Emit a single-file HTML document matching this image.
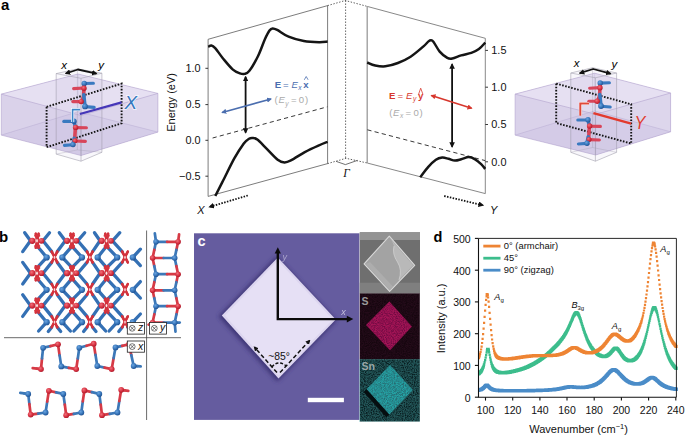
<!DOCTYPE html>
<html><head><meta charset="utf-8"><title>figure</title>
<style>
html,body{margin:0;padding:0;background:#fff;}
body{width:685px;height:435px;overflow:hidden;}
svg{display:block;font-family:"Liberation Sans",sans-serif;}
</style></head><body>
<svg width="685" height="435" viewBox="0 0 685 435">
<rect width="685" height="435" fill="#fff"/>
<defs>
<marker id="ahk" viewBox="0 0 10 10" refX="8" refY="5" markerWidth="3.1" markerHeight="3.1" orient="auto-start-reverse"><path d="M0 0L10 5L0 10z" fill="#111"/></marker>
<marker id="ahb" viewBox="0 0 10 10" refX="8" refY="5" markerWidth="3.2" markerHeight="3.2" orient="auto-start-reverse"><path d="M0 0L10 5L0 10z" fill="#4b6eaf"/></marker>
<marker id="ahr" viewBox="0 0 10 10" refX="8" refY="5" markerWidth="3.2" markerHeight="3.2" orient="auto-start-reverse"><path d="M0 0L10 5L0 10z" fill="#d7372d"/></marker>
<marker id="ahs" viewBox="0 0 10 10" refX="7" refY="5" markerWidth="3.2" markerHeight="3.2" orient="auto-start-reverse"><path d="M0 0L10 5L0 10z" fill="#111"/></marker>
<radialGradient id="gr" cx="0.38" cy="0.35" r="0.7"><stop offset="0" stop-color="#f0707a"/><stop offset="0.6" stop-color="#d63040"/><stop offset="1" stop-color="#a81828"/></radialGradient>
<radialGradient id="gb" cx="0.38" cy="0.35" r="0.7"><stop offset="0" stop-color="#6aa4e0"/><stop offset="0.6" stop-color="#3674b8"/><stop offset="1" stop-color="#1c4c8c"/></radialGradient>
<filter id="nzS" x="0" y="0" width="100%" height="100%"><feTurbulence type="fractalNoise" baseFrequency="0.9" numOctaves="2" seed="3"/><feColorMatrix type="matrix" values="0 0 0 0 0.75  0 0 0 0 0.08  0 0 0 0 0.42  1.6 1.6 0 0 -1.05"/></filter>
<filter id="nzS2" x="0" y="0" width="100%" height="100%"><feTurbulence type="fractalNoise" baseFrequency="0.9" numOctaves="2" seed="8"/><feColorMatrix type="matrix" values="0 0 0 0 0.05  0 0 0 0 0.0  0 0 0 0 0.03  1.6 1.6 0 0 -1.25"/></filter>
<filter id="nzT" x="0" y="0" width="100%" height="100%"><feTurbulence type="fractalNoise" baseFrequency="0.9" numOctaves="2" seed="5"/><feColorMatrix type="matrix" values="0 0 0 0 0.12  0 0 0 0 0.72  0 0 0 0 0.72  1.6 1.6 0 0 -0.95"/></filter>
<filter id="nzT2" x="0" y="0" width="100%" height="100%"><feTurbulence type="fractalNoise" baseFrequency="0.9" numOctaves="2" seed="11"/><feColorMatrix type="matrix" values="0 0 0 0 0.02  0 0 0 0 0.10  0 0 0 0 0.12  1.6 1.6 0 0 -1.2"/></filter>
<filter id="blur1"><feGaussianBlur stdDeviation="2.2"/></filter>
<filter id="blur2"><feGaussianBlur stdDeviation="0.6"/></filter>
</defs>
<text x="1" y="9.6" font-size="15" font-weight="bold">a</text>
<g id="slabL">
<polygon points="1.3,94.1 78.0,74.0 157.9,93.4 157.9,132.1 81.0,155.5 1.3,135.1" fill="#dad2ea"/>
<polygon points="1.3,94.1 78.0,74.0 157.9,93.4 81.0,115.5" fill="#e6e0f2"/>
<polygon points="81.0,115.5 157.9,93.4 157.9,132.1 81.0,155.5" fill="#ddd6ec"/>
<polygon points="1.3,135.1 78.0,111.7 157.9,132.1 81.0,155.5" fill="#cdc3e3" opacity="0.5"/>
<polygon points="1.3,94.1 78.0,74.0 157.9,93.4 157.9,132.1 81.0,155.5 1.3,135.1" stroke="#b3a5cf" stroke-width="0.6" fill="none"/>
<polyline points="1.3,94.1 81.0,115.5 157.9,93.4" stroke="#b3a5cf" stroke-width="0.6" fill="none"/>
<polyline points="81.0,115.5 81.0,155.5" stroke="#b3a5cf" stroke-width="0.6" fill="none"/>
<polyline points="1.3,135.1 78.0,111.7 157.9,132.1" stroke="#b3a5cf" stroke-width="0.6" fill="none" opacity="0.7"/>
<polyline points="78.0,74.0 78.0,111.7" stroke="#b3a5cf" stroke-width="0.6" fill="none" opacity="0.5"/>
<polygon points="56.2,73.6 77.4,68.9 101.9,73.2 81.0,78.3" stroke="#9a98a6" stroke-width="0.55" fill="none"/>
<polyline points="56.2,73.6 56.2,154.1 81.0,161.2 101.9,152.3 101.9,73.2" stroke="#9a98a6" stroke-width="0.55" fill="none"/>
<polyline points="81.0,78.3 81.0,161.2" stroke="#9a98a6" stroke-width="0.55" fill="none"/>
<polyline points="56.2,154.1 77.4,149.9 101.9,152.3" stroke="#9a98a6" stroke-width="0.55" fill="none" opacity="0.6"/>
<polyline points="77.4,68.9 77.4,149.9" stroke="#9a98a6" stroke-width="0.55" fill="none" opacity="0.6"/>
<polygon points="56.2,73.6 77.4,68.9 101.9,73.2 101.9,152.3 81.0,161.2 56.2,154.1" fill="#c9bfe0" opacity="0.12"/>
<polygon points="46.6,106.8 121.6,83.6 121.6,123.3 46.6,147.2" fill="none" stroke="#141414" stroke-width="1.9" stroke-dasharray="1.6 1.5"/>
<line x1="84.2" y1="83.4" x2="83.6" y2="96.4" stroke="#d8455a" stroke-width="3.6" stroke-linecap="round"/>
<line x1="83.6" y1="96.4" x2="81.4" y2="101.6" stroke="#d8455a" stroke-width="3.6" stroke-linecap="round"/>
<line x1="83.8" y1="94.9" x2="85.0" y2="106.6" stroke="#3a7ac0" stroke-width="3.6" stroke-linecap="round"/>
<line x1="73.6" y1="88.6" x2="84.2" y2="88.0" stroke="#d8455a" stroke-width="3.1" stroke-linecap="round"/>
<line x1="84.2" y1="83.5" x2="93.4" y2="83.2" stroke="#3a7ac0" stroke-width="3.1" stroke-linecap="round"/>
<line x1="72.8" y1="101.6" x2="81.2" y2="101.6" stroke="#d8455a" stroke-width="3.1" stroke-linecap="round"/>
<line x1="85.0" y1="106.6" x2="94.2" y2="107.4" stroke="#3a7ac0" stroke-width="3.1" stroke-linecap="round"/>
<circle cx="84.2" cy="83.4" r="2.7" fill="url(#gb)"/>
<circle cx="84.0" cy="88.2" r="2.7" fill="url(#gr)"/>
<circle cx="81.2" cy="101.6" r="2.7" fill="url(#gr)"/>
<circle cx="85.0" cy="106.4" r="2.9" fill="url(#gb)"/>
<line x1="74.0" y1="121.2" x2="75.4" y2="127.4" stroke="#3a7ac0" stroke-width="3.6" stroke-linecap="round"/>
<line x1="75.4" y1="127.4" x2="74.6" y2="140.7" stroke="#d8455a" stroke-width="3.6" stroke-linecap="round"/>
<line x1="74.2" y1="138.2" x2="73.0" y2="144.8" stroke="#3a7ac0" stroke-width="3.6" stroke-linecap="round"/>
<line x1="63.8" y1="121.4" x2="74.0" y2="121.4" stroke="#3a7ac0" stroke-width="3.1" stroke-linecap="round"/>
<line x1="75.6" y1="127.6" x2="86.4" y2="127.8" stroke="#d8455a" stroke-width="3.1" stroke-linecap="round"/>
<line x1="74.8" y1="141.0" x2="85.4" y2="141.4" stroke="#d8455a" stroke-width="3.1" stroke-linecap="round"/>
<line x1="64.4" y1="145.4" x2="73.0" y2="144.8" stroke="#3a7ac0" stroke-width="3.1" stroke-linecap="round"/>
<circle cx="74.0" cy="121.2" r="2.7" fill="url(#gb)"/>
<circle cx="75.6" cy="127.4" r="2.7" fill="url(#gr)"/>
<circle cx="75.0" cy="140.8" r="2.5" fill="url(#gr)"/>
<circle cx="73.0" cy="144.6" r="2.7" fill="url(#gb)"/>
<line x1="79.9" y1="114.0" x2="121.6" y2="102.4" stroke="#4536b8" stroke-width="2.2"/>
<polyline points="72.6,122 72.6,109.6 80.2,109.6" fill="none" stroke="#fff" stroke-width="3"/>
<polyline points="72.6,122 72.6,109.6 80.2,109.6" fill="none" stroke="#3d86c8" stroke-width="1.6"/>
<text x="124.4" y="109.0" font-size="18.8" font-style="italic" fill="#fff" stroke="#fff" stroke-width="1.6" opacity="0.7">X</text><text x="124.4" y="109.0" font-size="18.8" font-style="italic" fill="#3578be">X</text>
<polyline points="65.8,73.5 77.9,69.5 96.4,73.6" fill="none" stroke="#111" stroke-width="1.8" stroke-linejoin="round" marker-start="url(#ahk)" marker-end="url(#ahk)"/>
<text x="61.2" y="68.6" font-size="11.5" font-style="italic">x</text>
<text x="98.2" y="68.7" font-size="11.5" font-style="italic">y</text>
</g>
<g id="slabR">
<polygon points="515.1,94.1 594.6,73.2 670.6,93.0 670.6,131.8 595.6,155.0 515.1,135.1" fill="#dad2ea"/>
<polygon points="515.1,94.1 594.6,73.2 670.6,93.0 595.6,114.3" fill="#e6e0f2"/>
<polygon points="595.6,114.3 670.6,93.0 670.6,131.8 595.6,155.0" fill="#ddd6ec"/>
<polygon points="515.1,135.1 594.6,110.9 670.6,131.8 595.6,155.0" fill="#cdc3e3" opacity="0.5"/>
<polygon points="515.1,94.1 594.6,73.2 670.6,93.0 670.6,131.8 595.6,155.0 515.1,135.1" stroke="#b3a5cf" stroke-width="0.6" fill="none"/>
<polyline points="515.1,94.1 595.6,114.3 670.6,93.0" stroke="#b3a5cf" stroke-width="0.6" fill="none"/>
<polyline points="595.6,114.3 595.6,155.0" stroke="#b3a5cf" stroke-width="0.6" fill="none"/>
<polyline points="515.1,135.1 594.6,110.9 670.6,131.8" stroke="#b3a5cf" stroke-width="0.6" fill="none" opacity="0.7"/>
<polyline points="594.6,73.2 594.6,110.9" stroke="#b3a5cf" stroke-width="0.6" fill="none" opacity="0.5"/>
<polygon points="570.8,73.0 592.6,67.7 616.6,73.0 595.4,77.8" stroke="#9a98a6" stroke-width="0.55" fill="none"/>
<polyline points="570.8,73.0 570.8,152.3 595.4,161.2 616.6,152.3 616.6,73.0" stroke="#9a98a6" stroke-width="0.55" fill="none"/>
<polyline points="595.4,77.8 595.4,161.2" stroke="#9a98a6" stroke-width="0.55" fill="none"/>
<polyline points="570.8,152.3 592.6,147.5 616.6,152.3" stroke="#9a98a6" stroke-width="0.55" fill="none" opacity="0.6"/>
<polyline points="592.6,67.7 592.6,147.5" stroke="#9a98a6" stroke-width="0.55" fill="none" opacity="0.6"/>
<polygon points="570.8,73.0 592.6,67.7 616.6,73.0 616.6,152.3 595.4,161.2 570.8,152.3" fill="#c9bfe0" opacity="0.12"/>
<polygon points="556.2,83.6 631.2,104.3 631.2,143.5 556.2,123.0" fill="none" stroke="#141414" stroke-width="1.9" stroke-dasharray="1.6 1.5"/>
<line x1="600.2" y1="83.0" x2="599.6" y2="96.0" stroke="#d8455a" stroke-width="3.6" stroke-linecap="round"/>
<line x1="599.6" y1="96.0" x2="597.4" y2="101.2" stroke="#d8455a" stroke-width="3.6" stroke-linecap="round"/>
<line x1="599.8" y1="94.5" x2="601.0" y2="106.2" stroke="#3a7ac0" stroke-width="3.6" stroke-linecap="round"/>
<line x1="589.6" y1="88.2" x2="600.2" y2="87.6" stroke="#d8455a" stroke-width="3.1" stroke-linecap="round"/>
<line x1="600.2" y1="83.1" x2="609.4" y2="82.8" stroke="#3a7ac0" stroke-width="3.1" stroke-linecap="round"/>
<line x1="588.8" y1="101.2" x2="597.2" y2="101.2" stroke="#d8455a" stroke-width="3.1" stroke-linecap="round"/>
<line x1="601.0" y1="106.2" x2="610.2" y2="107.0" stroke="#3a7ac0" stroke-width="3.1" stroke-linecap="round"/>
<circle cx="600.2" cy="83.0" r="2.7" fill="url(#gb)"/>
<circle cx="600.0" cy="87.8" r="2.7" fill="url(#gr)"/>
<circle cx="597.2" cy="101.2" r="2.7" fill="url(#gr)"/>
<circle cx="601.0" cy="106.0" r="2.9" fill="url(#gb)"/>
<line x1="588.0" y1="119.8" x2="589.4" y2="126.0" stroke="#3a7ac0" stroke-width="3.6" stroke-linecap="round"/>
<line x1="589.4" y1="126.0" x2="588.6" y2="139.3" stroke="#d8455a" stroke-width="3.6" stroke-linecap="round"/>
<line x1="588.2" y1="136.8" x2="587.0" y2="143.4" stroke="#3a7ac0" stroke-width="3.6" stroke-linecap="round"/>
<line x1="577.8" y1="120.0" x2="588.0" y2="120.0" stroke="#3a7ac0" stroke-width="3.1" stroke-linecap="round"/>
<line x1="589.6" y1="126.2" x2="600.4" y2="126.4" stroke="#d8455a" stroke-width="3.1" stroke-linecap="round"/>
<line x1="588.8" y1="139.6" x2="599.4" y2="140.0" stroke="#d8455a" stroke-width="3.1" stroke-linecap="round"/>
<line x1="578.4" y1="144.0" x2="587.0" y2="143.4" stroke="#3a7ac0" stroke-width="3.1" stroke-linecap="round"/>
<circle cx="588.0" cy="119.8" r="2.7" fill="url(#gb)"/>
<circle cx="589.6" cy="126.0" r="2.7" fill="url(#gr)"/>
<circle cx="589.0" cy="139.4" r="2.5" fill="url(#gr)"/>
<circle cx="587.0" cy="143.2" r="2.7" fill="url(#gb)"/>
<line x1="593.4" y1="113.1" x2="631.2" y2="123.6" stroke="#e23a2e" stroke-width="2.5"/>
<polyline points="580.3,115.7 580.3,103.5 589.1,103.5" fill="none" stroke="#fff" stroke-width="2.8"/>
<polyline points="580.3,115.7 580.3,103.5 589.1,103.5" fill="none" stroke="#e0483a" stroke-width="2.0"/>
<text transform="translate(634.6,128.9) scale(0.88,1)" font-size="18.6" font-style="italic" fill="#e03c30">Y</text>
<polyline points="579.8,73.1 593.2,69.0 610.5,73.7" fill="none" stroke="#111" stroke-width="1.8" stroke-linejoin="round" marker-start="url(#ahk)" marker-end="url(#ahk)"/>
<text x="573.8" y="67.4" font-size="11.5" font-style="italic">x</text>
<text x="611.4" y="67.8" font-size="11.5" font-style="italic">y</text>
</g>
<g id="bands" fill="none">
<polygon points="208.1,39.3 327.6,5.6 327.6,163.6 208.1,196.4" stroke="#5a5a5a" stroke-width="0.8"/>
<polyline points="367.2,6.4 485.3,38.3 485.3,193.6 367.2,163" stroke="#6a6a6a" stroke-width="0.8"/>
<line x1="367.2" y1="6.4" x2="367.2" y2="163" stroke="#9a9a9a" stroke-width="1.3"/>
<polyline points="327.6,5.6 345.3,0.5 367.2,6.4" stroke="#333" stroke-width="0.8" stroke-dasharray="1.4 1.6"/>
<line x1="345.6" y1="0.5" x2="345.6" y2="158.3" stroke="#333" stroke-width="0.8" stroke-dasharray="1.4 1.6"/>
<polyline points="327.6,163.6 346.1,158.3 367.2,163" stroke="#333" stroke-width="0.8" stroke-dasharray="1.4 1.6"/>
<polyline points="336.2,161.4 345.4,164.6 357.4,160.4" stroke="#333" stroke-width="0.7"/>
<line x1="205.4" y1="68.3" x2="208.1" y2="68.3" stroke="#222" stroke-width="0.9"/>
<line x1="205.4" y1="104.6" x2="208.1" y2="104.6" stroke="#222" stroke-width="0.9"/>
<line x1="205.4" y1="140.3" x2="208.1" y2="140.3" stroke="#222" stroke-width="0.9"/>
<line x1="205.4" y1="176.2" x2="208.1" y2="176.2" stroke="#222" stroke-width="0.9"/>
<line x1="485.3" y1="50.4" x2="488" y2="50.4" stroke="#222" stroke-width="0.9"/>
<line x1="485.3" y1="87.2" x2="488" y2="87.2" stroke="#222" stroke-width="0.9"/>
<line x1="485.3" y1="124.5" x2="488" y2="124.5" stroke="#222" stroke-width="0.9"/>
<line x1="485.3" y1="161.8" x2="488" y2="161.8" stroke="#222" stroke-width="0.9"/>
<line x1="212.6" y1="138" x2="327.4" y2="106.8" stroke="#222" stroke-width="0.9" stroke-dasharray="4.2 3.2"/>
<line x1="367.4" y1="129.8" x2="485.2" y2="160.6" stroke="#222" stroke-width="0.9" stroke-dasharray="4.2 3.2"/>
<path d="M208.2 46.8 C208.7 46.6 210.2 45.3 211.4 45.5 C212.6 45.7 213.3 46.0 215.2 48.1 C217.1 50.2 219.9 54.6 222.8 58.2 C225.8 61.8 230.0 67.1 232.9 69.6 C235.8 72.1 238.1 72.7 240.0 73.4 C241.9 74.1 242.9 74.3 244.5 73.9 C246.1 73.5 247.1 73.8 249.4 70.8 C251.7 67.8 255.6 61.0 258.2 55.7 C260.8 50.4 263.1 43.2 265.0 39.0 C266.9 34.8 268.2 32.3 269.5 30.5 C270.8 28.7 271.3 28.5 272.6 28.4 C273.9 28.3 274.5 28.5 277.2 29.9 C279.9 31.3 284.2 34.9 288.6 36.7 C293.0 38.6 298.7 40.1 303.8 41.0 C308.9 41.9 315.0 42.1 319.0 42.2 C323.0 42.3 326.2 41.7 327.6 41.6" stroke="#151515" stroke-width="2.5" stroke-linecap="butt"/>
<path d="M215.3 196.0 C216.7 193.3 220.2 186.3 223.4 180.0 C226.6 173.7 230.9 164.4 234.3 158.3 C237.7 152.2 241.4 146.7 243.8 143.4 C246.2 140.2 247.6 139.7 249.0 138.8 C250.4 137.9 251.1 137.9 252.5 138.0 C253.9 138.1 254.9 137.8 257.3 139.6 C259.7 141.4 263.4 145.5 266.8 148.8 C270.2 152.2 274.8 157.4 277.7 159.7 C280.6 162.0 282.2 162.3 284.5 162.4 C286.8 162.5 287.9 161.9 291.3 160.2 C294.7 158.5 300.3 154.5 304.8 152.1 C309.3 149.7 314.6 147.3 318.4 145.6 C322.2 143.9 326.1 142.4 327.6 141.8" stroke="#151515" stroke-width="2.5" stroke-linecap="butt"/>
<path d="M367.2 62.5 C368.5 63.0 372.2 64.9 375.2 65.5 C378.2 66.1 381.5 66.7 385.3 66.3 C389.1 65.9 393.7 64.6 397.9 63.0 C402.1 61.4 406.4 59.4 410.6 56.7 C414.8 54.0 420.2 49.2 423.2 46.6 C426.2 44.0 427.2 42.5 428.5 41.4 C429.8 40.3 430.0 40.2 430.8 40.2 C431.6 40.2 431.9 39.8 433.4 41.7 C434.9 43.6 437.4 48.9 439.7 51.6 C442.0 54.3 445.2 56.7 447.3 57.9 C449.4 59.1 450.0 59.0 452.3 58.6 C454.6 58.2 458.0 56.4 461.2 55.4 C464.4 54.4 468.4 53.9 471.3 52.9 C474.2 51.9 476.6 50.8 478.9 49.1 C481.2 47.4 484.2 43.7 485.3 42.6" stroke="#151515" stroke-width="2.5" stroke-linecap="butt"/>
<path d="M420.2 177.2 C421.6 175.5 425.7 169.8 428.3 166.9 C430.9 164.0 433.6 161.4 435.9 159.8 C438.2 158.2 440.1 157.8 442.2 157.6 C444.3 157.4 446.4 158.3 448.5 158.8 C450.6 159.3 452.8 160.5 454.9 160.6 C457.0 160.7 458.9 159.9 461.2 159.3 C463.5 158.7 466.5 157.1 468.8 157.1 C471.1 157.1 473.0 158.1 475.1 159.3 C477.2 160.5 479.7 162.8 481.4 164.4 C483.1 166.0 484.6 168.2 485.3 168.9" stroke="#151515" stroke-width="2.5" stroke-linecap="butt"/>
<line x1="245.6" y1="76.8" x2="245.6" y2="132.6" stroke="#111" stroke-width="1.8" marker-start="url(#ahk)" marker-end="url(#ahk)"/>
<line x1="452.1" y1="64.2" x2="452.1" y2="146.8" stroke="#111" stroke-width="1.8" marker-start="url(#ahk)" marker-end="url(#ahk)"/>
<line x1="222.2" y1="112.4" x2="271.0" y2="99.0" stroke="#4b6eaf" stroke-width="1.6" marker-start="url(#ahb)" marker-end="url(#ahb)"/>
<line x1="431.4" y1="95.5" x2="471.6" y2="108.2" stroke="#d7372d" stroke-width="1.6" marker-start="url(#ahr)" marker-end="url(#ahr)"/>
<line x1="247.8" y1="195.5" x2="210" y2="206.8" stroke="#111" stroke-width="1.8" stroke-dasharray="1.5 1.4" marker-end="url(#ahs)"/>
<line x1="444.2" y1="196" x2="482.5" y2="205.2" stroke="#111" stroke-width="1.8" stroke-dasharray="1.5 1.4" marker-end="url(#ahs)"/>
</g>
<g font-size="10.9" fill="#111">
<text x="200.6" y="72.0" text-anchor="end">1.0</text>
<text x="200.6" y="108.3" text-anchor="end">0.5</text>
<text x="200.6" y="144.0" text-anchor="end">0.0</text>
<text x="200.6" y="179.9" text-anchor="end">−0.5</text>
<text x="491.3" y="54.1">1.5</text>
<text x="491.3" y="90.9">1.0</text>
<text x="491.3" y="128.2">0.5</text>
<text x="491.3" y="165.5">0.0</text>
</g>
<text transform="translate(175.2,102.4) rotate(-90)" text-anchor="middle" font-size="11" fill="#111">Energy (eV)</text>
<text x="197.2" y="214" font-size="11" font-style="italic" fill="#111">X</text>
<text x="490" y="213.8" font-size="11" font-style="italic" fill="#111">Y</text>
<text x="343.2" y="177" font-size="11.5" font-style="italic" font-family="Liberation Serif, serif" fill="#111">Γ</text>
<g font-size="9.6">
<text y="87.5" fill="#4b6eaf"><tspan x="274.7" font-weight="bold">E</tspan><tspan x="282.9">=</tspan><tspan x="291.4" font-style="italic">E</tspan><tspan x="298.3" dy="2.7" font-size="6.6" font-style="italic">x</tspan><tspan x="303.3" dy="-2.7" font-weight="bold">x</tspan></text>
<polyline points="304.3,79.8 306.2,76.5 308.1,79.8" fill="none" stroke="#4b6eaf" stroke-width="0.8"/>
<text y="103.1" fill="#aaaaaa"><tspan x="274.6">(</tspan><tspan x="278.5" font-style="italic">E</tspan><tspan x="285.3" dy="2.4" font-size="6.6" font-style="italic">y</tspan><tspan x="290.9" dy="-2.4">=</tspan><tspan x="298.8">0</tspan><tspan x="304.9">)</tspan></text>
<text y="98.6" fill="#d7372d"><tspan x="389.0" font-weight="bold">E</tspan><tspan x="397.6">=</tspan><tspan x="405.9" font-style="italic">E</tspan><tspan x="412.9" dy="2.7" font-size="6.6" font-style="italic">y</tspan><tspan x="418.0" dy="-2.7" font-weight="bold">y</tspan></text>
<polyline points="418.6,94.2 420.7,88.2 422.9,94.2" fill="none" stroke="#d7372d" stroke-width="0.8"/>
<text y="115.6" fill="#aaaaaa"><tspan x="389.2">(</tspan><tspan x="393.1" font-style="italic">E</tspan><tspan x="399.9" dy="2.4" font-size="6.6" font-style="italic">x</tspan><tspan x="405.5" dy="-2.4">=</tspan><tspan x="413.4">0</tspan><tspan x="419.5">)</tspan></text>
</g>
<text x="-1" y="241.6" font-size="15" font-weight="bold">b</text>
<g id="pb">
<line x1="30.5" y1="240.8" x2="24.7" y2="232.7" stroke="#3470b4" stroke-width="3.3" stroke-linecap="round"/>
<line x1="30.5" y1="240.8" x2="22.7" y2="251.6" stroke="#3470b4" stroke-width="3.3" stroke-linecap="round"/>
<line x1="43.0" y1="240.8" x2="49.5" y2="232.7" stroke="#3470b4" stroke-width="3.3" stroke-linecap="round"/>
<line x1="43.0" y1="240.8" x2="51.7" y2="251.6" stroke="#3470b4" stroke-width="3.3" stroke-linecap="round"/>
<line x1="38.6" y1="247.8" x2="46.7" y2="257.4" stroke="#3470b4" stroke-width="3.3" stroke-linecap="round"/>
<line x1="30.5" y1="273.2" x2="22.7" y2="262.4" stroke="#3470b4" stroke-width="3.3" stroke-linecap="round"/>
<line x1="30.5" y1="273.2" x2="22.7" y2="284.0" stroke="#3470b4" stroke-width="3.3" stroke-linecap="round"/>
<line x1="43.0" y1="273.2" x2="51.7" y2="262.4" stroke="#3470b4" stroke-width="3.3" stroke-linecap="round"/>
<line x1="38.6" y1="266.2" x2="46.7" y2="257.4" stroke="#3470b4" stroke-width="3.3" stroke-linecap="round"/>
<line x1="43.0" y1="273.2" x2="51.7" y2="284.0" stroke="#3470b4" stroke-width="3.3" stroke-linecap="round"/>
<line x1="38.6" y1="280.2" x2="46.7" y2="289.8" stroke="#3470b4" stroke-width="3.3" stroke-linecap="round"/>
<line x1="30.5" y1="305.6" x2="22.7" y2="294.8" stroke="#3470b4" stroke-width="3.3" stroke-linecap="round"/>
<line x1="30.5" y1="305.6" x2="22.7" y2="316.4" stroke="#3470b4" stroke-width="3.3" stroke-linecap="round"/>
<line x1="43.0" y1="305.6" x2="51.7" y2="294.8" stroke="#3470b4" stroke-width="3.3" stroke-linecap="round"/>
<line x1="38.6" y1="298.6" x2="46.7" y2="289.8" stroke="#3470b4" stroke-width="3.3" stroke-linecap="round"/>
<line x1="43.0" y1="305.6" x2="51.7" y2="316.4" stroke="#3470b4" stroke-width="3.3" stroke-linecap="round"/>
<line x1="38.6" y1="312.6" x2="46.7" y2="322.2" stroke="#3470b4" stroke-width="3.3" stroke-linecap="round"/>
<line x1="65.3" y1="240.8" x2="59.3" y2="232.7" stroke="#3470b4" stroke-width="3.3" stroke-linecap="round"/>
<line x1="65.3" y1="240.8" x2="57.3" y2="251.6" stroke="#3470b4" stroke-width="3.3" stroke-linecap="round"/>
<line x1="70.6" y1="247.8" x2="62.3" y2="257.4" stroke="#3470b4" stroke-width="3.3" stroke-linecap="round"/>
<line x1="77.8" y1="240.8" x2="84.7" y2="232.7" stroke="#3470b4" stroke-width="3.3" stroke-linecap="round"/>
<line x1="77.8" y1="240.8" x2="87.0" y2="251.6" stroke="#3470b4" stroke-width="3.3" stroke-linecap="round"/>
<line x1="73.4" y1="247.8" x2="82.0" y2="257.4" stroke="#3470b4" stroke-width="3.3" stroke-linecap="round"/>
<line x1="65.3" y1="273.2" x2="57.3" y2="262.4" stroke="#3470b4" stroke-width="3.3" stroke-linecap="round"/>
<line x1="70.6" y1="266.2" x2="62.3" y2="257.4" stroke="#3470b4" stroke-width="3.3" stroke-linecap="round"/>
<line x1="65.3" y1="273.2" x2="57.3" y2="284.0" stroke="#3470b4" stroke-width="3.3" stroke-linecap="round"/>
<line x1="70.6" y1="280.2" x2="62.3" y2="289.8" stroke="#3470b4" stroke-width="3.3" stroke-linecap="round"/>
<line x1="77.8" y1="273.2" x2="87.0" y2="262.4" stroke="#3470b4" stroke-width="3.3" stroke-linecap="round"/>
<line x1="73.4" y1="266.2" x2="82.0" y2="257.4" stroke="#3470b4" stroke-width="3.3" stroke-linecap="round"/>
<line x1="77.8" y1="273.2" x2="87.0" y2="284.0" stroke="#3470b4" stroke-width="3.3" stroke-linecap="round"/>
<line x1="73.4" y1="280.2" x2="82.0" y2="289.8" stroke="#3470b4" stroke-width="3.3" stroke-linecap="round"/>
<line x1="65.3" y1="305.6" x2="57.3" y2="294.8" stroke="#3470b4" stroke-width="3.3" stroke-linecap="round"/>
<line x1="70.6" y1="298.6" x2="62.3" y2="289.8" stroke="#3470b4" stroke-width="3.3" stroke-linecap="round"/>
<line x1="65.3" y1="305.6" x2="57.3" y2="316.4" stroke="#3470b4" stroke-width="3.3" stroke-linecap="round"/>
<line x1="70.6" y1="312.6" x2="62.3" y2="322.2" stroke="#3470b4" stroke-width="3.3" stroke-linecap="round"/>
<line x1="77.8" y1="305.6" x2="87.0" y2="294.8" stroke="#3470b4" stroke-width="3.3" stroke-linecap="round"/>
<line x1="73.4" y1="298.6" x2="82.0" y2="289.8" stroke="#3470b4" stroke-width="3.3" stroke-linecap="round"/>
<line x1="77.8" y1="305.6" x2="87.0" y2="316.4" stroke="#3470b4" stroke-width="3.3" stroke-linecap="round"/>
<line x1="73.4" y1="312.6" x2="82.0" y2="322.2" stroke="#3470b4" stroke-width="3.3" stroke-linecap="round"/>
<line x1="100.0" y1="240.8" x2="94.5" y2="232.7" stroke="#3470b4" stroke-width="3.3" stroke-linecap="round"/>
<line x1="100.0" y1="240.8" x2="92.6" y2="251.6" stroke="#3470b4" stroke-width="3.3" stroke-linecap="round"/>
<line x1="105.3" y1="247.8" x2="97.6" y2="257.4" stroke="#3470b4" stroke-width="3.3" stroke-linecap="round"/>
<line x1="112.5" y1="240.8" x2="119.8" y2="232.7" stroke="#3470b4" stroke-width="3.3" stroke-linecap="round"/>
<line x1="112.5" y1="240.8" x2="122.2" y2="251.6" stroke="#3470b4" stroke-width="3.3" stroke-linecap="round"/>
<line x1="108.1" y1="247.8" x2="117.2" y2="257.4" stroke="#3470b4" stroke-width="3.3" stroke-linecap="round"/>
<line x1="100.0" y1="273.2" x2="92.6" y2="262.4" stroke="#3470b4" stroke-width="3.3" stroke-linecap="round"/>
<line x1="105.3" y1="266.2" x2="97.6" y2="257.4" stroke="#3470b4" stroke-width="3.3" stroke-linecap="round"/>
<line x1="100.0" y1="273.2" x2="92.6" y2="284.0" stroke="#3470b4" stroke-width="3.3" stroke-linecap="round"/>
<line x1="105.3" y1="280.2" x2="97.6" y2="289.8" stroke="#3470b4" stroke-width="3.3" stroke-linecap="round"/>
<line x1="112.5" y1="273.2" x2="122.2" y2="262.4" stroke="#3470b4" stroke-width="3.3" stroke-linecap="round"/>
<line x1="108.1" y1="266.2" x2="117.2" y2="257.4" stroke="#3470b4" stroke-width="3.3" stroke-linecap="round"/>
<line x1="112.5" y1="273.2" x2="122.2" y2="284.0" stroke="#3470b4" stroke-width="3.3" stroke-linecap="round"/>
<line x1="108.1" y1="280.2" x2="117.2" y2="289.8" stroke="#3470b4" stroke-width="3.3" stroke-linecap="round"/>
<line x1="100.0" y1="305.6" x2="92.6" y2="294.8" stroke="#3470b4" stroke-width="3.3" stroke-linecap="round"/>
<line x1="105.3" y1="298.6" x2="97.6" y2="289.8" stroke="#3470b4" stroke-width="3.3" stroke-linecap="round"/>
<line x1="100.0" y1="305.6" x2="92.6" y2="316.4" stroke="#3470b4" stroke-width="3.3" stroke-linecap="round"/>
<line x1="105.3" y1="312.6" x2="97.6" y2="322.2" stroke="#3470b4" stroke-width="3.3" stroke-linecap="round"/>
<line x1="112.5" y1="305.6" x2="122.2" y2="294.8" stroke="#3470b4" stroke-width="3.3" stroke-linecap="round"/>
<line x1="108.1" y1="298.6" x2="117.2" y2="289.8" stroke="#3470b4" stroke-width="3.3" stroke-linecap="round"/>
<line x1="112.5" y1="305.6" x2="122.2" y2="316.4" stroke="#3470b4" stroke-width="3.3" stroke-linecap="round"/>
<line x1="108.1" y1="312.6" x2="117.2" y2="322.2" stroke="#3470b4" stroke-width="3.3" stroke-linecap="round"/>
<line x1="51.7" y1="327.2" x2="48.3" y2="331.5" stroke="#3470b4" stroke-width="3.3" stroke-linecap="round"/>
<line x1="46.7" y1="322.2" x2="38.6" y2="331.0" stroke="#3470b4" stroke-width="3.3" stroke-linecap="round"/>
<line x1="57.3" y1="327.2" x2="60.7" y2="331.5" stroke="#3470b4" stroke-width="3.3" stroke-linecap="round"/>
<line x1="62.3" y1="322.2" x2="70.4" y2="331.0" stroke="#3470b4" stroke-width="3.3" stroke-linecap="round"/>
<line x1="87.0" y1="327.2" x2="83.6" y2="331.5" stroke="#3470b4" stroke-width="3.3" stroke-linecap="round"/>
<line x1="82.0" y1="322.2" x2="73.9" y2="331.0" stroke="#3470b4" stroke-width="3.3" stroke-linecap="round"/>
<line x1="92.6" y1="327.2" x2="96.0" y2="331.5" stroke="#3470b4" stroke-width="3.3" stroke-linecap="round"/>
<line x1="97.6" y1="322.2" x2="105.7" y2="331.0" stroke="#3470b4" stroke-width="3.3" stroke-linecap="round"/>
<line x1="132.8" y1="257.4" x2="140.4" y2="249.2" stroke="#3470b4" stroke-width="3.3" stroke-linecap="round"/>
<line x1="132.8" y1="257.4" x2="140.4" y2="265.6" stroke="#3470b4" stroke-width="3.3" stroke-linecap="round"/>
<line x1="132.8" y1="289.8" x2="140.4" y2="281.6" stroke="#3470b4" stroke-width="3.3" stroke-linecap="round"/>
<line x1="132.8" y1="289.8" x2="140.4" y2="298.0" stroke="#3470b4" stroke-width="3.3" stroke-linecap="round"/>
<line x1="132.8" y1="322.2" x2="140.4" y2="314.0" stroke="#3470b4" stroke-width="3.3" stroke-linecap="round"/>
<line x1="132.8" y1="322.2" x2="140.4" y2="330.4" stroke="#3470b4" stroke-width="3.3" stroke-linecap="round"/>
<line x1="122.2" y1="327.2" x2="118.8" y2="331.5" stroke="#3470b4" stroke-width="3.3" stroke-linecap="round"/>
<line x1="117.2" y1="322.2" x2="109.1" y2="331.0" stroke="#3470b4" stroke-width="3.3" stroke-linecap="round"/>
<line x1="127.8" y1="327.2" x2="131.2" y2="331.5" stroke="#3470b4" stroke-width="3.3" stroke-linecap="round"/>
<line x1="132.8" y1="322.2" x2="140.9" y2="331.0" stroke="#3470b4" stroke-width="3.3" stroke-linecap="round"/>
<line x1="38.6" y1="247.8" x2="35.8" y2="233.8" stroke="#d3323c" stroke-width="2.4" stroke-linecap="round"/>
<line x1="38.6" y1="233.8" x2="35.8" y2="247.8" stroke="#d3323c" stroke-width="2.4" stroke-linecap="round"/>
<line x1="35.8" y1="247.8" x2="38.6" y2="233.8" stroke="#d3323c" stroke-width="2.4" stroke-linecap="round"/>
<line x1="35.8" y1="233.8" x2="38.6" y2="247.8" stroke="#d3323c" stroke-width="2.4" stroke-linecap="round"/>
<line x1="38.6" y1="280.2" x2="35.8" y2="266.2" stroke="#d3323c" stroke-width="2.4" stroke-linecap="round"/>
<line x1="38.6" y1="266.2" x2="35.8" y2="280.2" stroke="#d3323c" stroke-width="2.4" stroke-linecap="round"/>
<line x1="35.8" y1="280.2" x2="38.6" y2="266.2" stroke="#d3323c" stroke-width="2.4" stroke-linecap="round"/>
<line x1="35.8" y1="266.2" x2="38.6" y2="280.2" stroke="#d3323c" stroke-width="2.4" stroke-linecap="round"/>
<line x1="38.6" y1="312.6" x2="35.8" y2="298.6" stroke="#d3323c" stroke-width="2.4" stroke-linecap="round"/>
<line x1="38.6" y1="298.6" x2="35.8" y2="312.6" stroke="#d3323c" stroke-width="2.4" stroke-linecap="round"/>
<line x1="35.8" y1="312.6" x2="38.6" y2="298.6" stroke="#d3323c" stroke-width="2.4" stroke-linecap="round"/>
<line x1="35.8" y1="298.6" x2="38.6" y2="312.6" stroke="#d3323c" stroke-width="2.4" stroke-linecap="round"/>
<line x1="73.4" y1="247.8" x2="70.6" y2="233.8" stroke="#d3323c" stroke-width="2.4" stroke-linecap="round"/>
<line x1="73.4" y1="233.8" x2="70.6" y2="247.8" stroke="#d3323c" stroke-width="2.4" stroke-linecap="round"/>
<line x1="70.6" y1="247.8" x2="73.4" y2="233.8" stroke="#d3323c" stroke-width="2.4" stroke-linecap="round"/>
<line x1="70.6" y1="233.8" x2="73.4" y2="247.8" stroke="#d3323c" stroke-width="2.4" stroke-linecap="round"/>
<line x1="73.4" y1="280.2" x2="70.6" y2="266.2" stroke="#d3323c" stroke-width="2.4" stroke-linecap="round"/>
<line x1="73.4" y1="266.2" x2="70.6" y2="280.2" stroke="#d3323c" stroke-width="2.4" stroke-linecap="round"/>
<line x1="70.6" y1="280.2" x2="73.4" y2="266.2" stroke="#d3323c" stroke-width="2.4" stroke-linecap="round"/>
<line x1="70.6" y1="266.2" x2="73.4" y2="280.2" stroke="#d3323c" stroke-width="2.4" stroke-linecap="round"/>
<line x1="73.4" y1="312.6" x2="70.6" y2="298.6" stroke="#d3323c" stroke-width="2.4" stroke-linecap="round"/>
<line x1="73.4" y1="298.6" x2="70.6" y2="312.6" stroke="#d3323c" stroke-width="2.4" stroke-linecap="round"/>
<line x1="70.6" y1="312.6" x2="73.4" y2="298.6" stroke="#d3323c" stroke-width="2.4" stroke-linecap="round"/>
<line x1="70.6" y1="298.6" x2="73.4" y2="312.6" stroke="#d3323c" stroke-width="2.4" stroke-linecap="round"/>
<line x1="108.1" y1="247.8" x2="105.3" y2="233.8" stroke="#d3323c" stroke-width="2.4" stroke-linecap="round"/>
<line x1="108.1" y1="233.8" x2="105.3" y2="247.8" stroke="#d3323c" stroke-width="2.4" stroke-linecap="round"/>
<line x1="105.3" y1="247.8" x2="108.1" y2="233.8" stroke="#d3323c" stroke-width="2.4" stroke-linecap="round"/>
<line x1="105.3" y1="233.8" x2="108.1" y2="247.8" stroke="#d3323c" stroke-width="2.4" stroke-linecap="round"/>
<line x1="108.1" y1="280.2" x2="105.3" y2="266.2" stroke="#d3323c" stroke-width="2.4" stroke-linecap="round"/>
<line x1="108.1" y1="266.2" x2="105.3" y2="280.2" stroke="#d3323c" stroke-width="2.4" stroke-linecap="round"/>
<line x1="105.3" y1="280.2" x2="108.1" y2="266.2" stroke="#d3323c" stroke-width="2.4" stroke-linecap="round"/>
<line x1="105.3" y1="266.2" x2="108.1" y2="280.2" stroke="#d3323c" stroke-width="2.4" stroke-linecap="round"/>
<line x1="108.1" y1="312.6" x2="105.3" y2="298.6" stroke="#d3323c" stroke-width="2.4" stroke-linecap="round"/>
<line x1="108.1" y1="298.6" x2="105.3" y2="312.6" stroke="#d3323c" stroke-width="2.4" stroke-linecap="round"/>
<line x1="105.3" y1="312.6" x2="108.1" y2="298.6" stroke="#d3323c" stroke-width="2.4" stroke-linecap="round"/>
<line x1="105.3" y1="298.6" x2="108.1" y2="312.6" stroke="#d3323c" stroke-width="2.4" stroke-linecap="round"/>
<line x1="57.3" y1="262.4" x2="51.7" y2="251.6" stroke="#d3323c" stroke-width="2.4" stroke-linecap="round"/>
<line x1="57.3" y1="251.6" x2="51.7" y2="262.4" stroke="#d3323c" stroke-width="2.4" stroke-linecap="round"/>
<line x1="51.7" y1="262.4" x2="57.3" y2="251.6" stroke="#d3323c" stroke-width="2.4" stroke-linecap="round"/>
<line x1="51.7" y1="251.6" x2="57.3" y2="262.4" stroke="#d3323c" stroke-width="2.4" stroke-linecap="round"/>
<line x1="57.3" y1="294.8" x2="51.7" y2="284.0" stroke="#d3323c" stroke-width="2.4" stroke-linecap="round"/>
<line x1="57.3" y1="284.0" x2="51.7" y2="294.8" stroke="#d3323c" stroke-width="2.4" stroke-linecap="round"/>
<line x1="51.7" y1="294.8" x2="57.3" y2="284.0" stroke="#d3323c" stroke-width="2.4" stroke-linecap="round"/>
<line x1="51.7" y1="284.0" x2="57.3" y2="294.8" stroke="#d3323c" stroke-width="2.4" stroke-linecap="round"/>
<line x1="57.3" y1="327.2" x2="51.7" y2="316.4" stroke="#d3323c" stroke-width="2.4" stroke-linecap="round"/>
<line x1="57.3" y1="316.4" x2="51.7" y2="327.2" stroke="#d3323c" stroke-width="2.4" stroke-linecap="round"/>
<line x1="51.7" y1="327.2" x2="57.3" y2="316.4" stroke="#d3323c" stroke-width="2.4" stroke-linecap="round"/>
<line x1="51.7" y1="316.4" x2="57.3" y2="327.2" stroke="#d3323c" stroke-width="2.4" stroke-linecap="round"/>
<line x1="92.6" y1="262.4" x2="87.0" y2="251.6" stroke="#d3323c" stroke-width="2.4" stroke-linecap="round"/>
<line x1="92.6" y1="251.6" x2="87.0" y2="262.4" stroke="#d3323c" stroke-width="2.4" stroke-linecap="round"/>
<line x1="87.0" y1="262.4" x2="92.6" y2="251.6" stroke="#d3323c" stroke-width="2.4" stroke-linecap="round"/>
<line x1="87.0" y1="251.6" x2="92.6" y2="262.4" stroke="#d3323c" stroke-width="2.4" stroke-linecap="round"/>
<line x1="92.6" y1="294.8" x2="87.0" y2="284.0" stroke="#d3323c" stroke-width="2.4" stroke-linecap="round"/>
<line x1="92.6" y1="284.0" x2="87.0" y2="294.8" stroke="#d3323c" stroke-width="2.4" stroke-linecap="round"/>
<line x1="87.0" y1="294.8" x2="92.6" y2="284.0" stroke="#d3323c" stroke-width="2.4" stroke-linecap="round"/>
<line x1="87.0" y1="284.0" x2="92.6" y2="294.8" stroke="#d3323c" stroke-width="2.4" stroke-linecap="round"/>
<line x1="92.6" y1="327.2" x2="87.0" y2="316.4" stroke="#d3323c" stroke-width="2.4" stroke-linecap="round"/>
<line x1="92.6" y1="316.4" x2="87.0" y2="327.2" stroke="#d3323c" stroke-width="2.4" stroke-linecap="round"/>
<line x1="87.0" y1="327.2" x2="92.6" y2="316.4" stroke="#d3323c" stroke-width="2.4" stroke-linecap="round"/>
<line x1="87.0" y1="316.4" x2="92.6" y2="327.2" stroke="#d3323c" stroke-width="2.4" stroke-linecap="round"/>
<line x1="127.8" y1="262.4" x2="122.2" y2="251.6" stroke="#d3323c" stroke-width="2.4" stroke-linecap="round"/>
<line x1="127.8" y1="251.6" x2="122.2" y2="262.4" stroke="#d3323c" stroke-width="2.4" stroke-linecap="round"/>
<line x1="122.2" y1="262.4" x2="127.8" y2="251.6" stroke="#d3323c" stroke-width="2.4" stroke-linecap="round"/>
<line x1="122.2" y1="251.6" x2="127.8" y2="262.4" stroke="#d3323c" stroke-width="2.4" stroke-linecap="round"/>
<line x1="127.8" y1="294.8" x2="122.2" y2="284.0" stroke="#d3323c" stroke-width="2.4" stroke-linecap="round"/>
<line x1="127.8" y1="284.0" x2="122.2" y2="294.8" stroke="#d3323c" stroke-width="2.4" stroke-linecap="round"/>
<line x1="122.2" y1="294.8" x2="127.8" y2="284.0" stroke="#d3323c" stroke-width="2.4" stroke-linecap="round"/>
<line x1="122.2" y1="284.0" x2="127.8" y2="294.8" stroke="#d3323c" stroke-width="2.4" stroke-linecap="round"/>
<line x1="127.8" y1="327.2" x2="122.2" y2="316.4" stroke="#d3323c" stroke-width="2.4" stroke-linecap="round"/>
<line x1="127.8" y1="316.4" x2="122.2" y2="327.2" stroke="#d3323c" stroke-width="2.4" stroke-linecap="round"/>
<line x1="122.2" y1="327.2" x2="127.8" y2="316.4" stroke="#d3323c" stroke-width="2.4" stroke-linecap="round"/>
<line x1="122.2" y1="316.4" x2="127.8" y2="327.2" stroke="#d3323c" stroke-width="2.4" stroke-linecap="round"/>
<path d="M34.2 235.6h6M34.2 246.0h6" stroke="#d8353e" stroke-width="1.6"/>
<circle cx="32.3" cy="240.8" r="3.1" fill="url(#gr)"/>
<circle cx="41.5" cy="240.8" r="2.9" fill="url(#gr)"/>
<ellipse cx="37.0" cy="240.8" rx="0.9" ry="1.7" fill="#fff" opacity="0.9"/>
<path d="M34.2 268.0h6M34.2 278.4h6" stroke="#d8353e" stroke-width="1.6"/>
<circle cx="32.3" cy="273.2" r="3.1" fill="url(#gr)"/>
<circle cx="41.5" cy="273.2" r="2.9" fill="url(#gr)"/>
<ellipse cx="37.0" cy="273.2" rx="0.9" ry="1.7" fill="#fff" opacity="0.9"/>
<path d="M34.2 300.4h6M34.2 310.8h6" stroke="#d8353e" stroke-width="1.6"/>
<circle cx="32.3" cy="305.6" r="3.1" fill="url(#gr)"/>
<circle cx="41.5" cy="305.6" r="2.9" fill="url(#gr)"/>
<ellipse cx="37.0" cy="305.6" rx="0.9" ry="1.7" fill="#fff" opacity="0.9"/>
<path d="M69.0 235.6h6M69.0 246.0h6" stroke="#d8353e" stroke-width="1.6"/>
<circle cx="67.1" cy="240.8" r="3.1" fill="url(#gr)"/>
<circle cx="76.3" cy="240.8" r="2.9" fill="url(#gr)"/>
<ellipse cx="71.8" cy="240.8" rx="0.9" ry="1.7" fill="#fff" opacity="0.9"/>
<path d="M69.0 268.0h6M69.0 278.4h6" stroke="#d8353e" stroke-width="1.6"/>
<circle cx="67.1" cy="273.2" r="3.1" fill="url(#gr)"/>
<circle cx="76.3" cy="273.2" r="2.9" fill="url(#gr)"/>
<ellipse cx="71.8" cy="273.2" rx="0.9" ry="1.7" fill="#fff" opacity="0.9"/>
<path d="M69.0 300.4h6M69.0 310.8h6" stroke="#d8353e" stroke-width="1.6"/>
<circle cx="67.1" cy="305.6" r="3.1" fill="url(#gr)"/>
<circle cx="76.3" cy="305.6" r="2.9" fill="url(#gr)"/>
<ellipse cx="71.8" cy="305.6" rx="0.9" ry="1.7" fill="#fff" opacity="0.9"/>
<path d="M103.7 235.6h6M103.7 246.0h6" stroke="#d8353e" stroke-width="1.6"/>
<circle cx="101.8" cy="240.8" r="3.1" fill="url(#gr)"/>
<circle cx="111.0" cy="240.8" r="2.9" fill="url(#gr)"/>
<ellipse cx="106.5" cy="240.8" rx="0.9" ry="1.7" fill="#fff" opacity="0.9"/>
<path d="M103.7 268.0h6M103.7 278.4h6" stroke="#d8353e" stroke-width="1.6"/>
<circle cx="101.8" cy="273.2" r="3.1" fill="url(#gr)"/>
<circle cx="111.0" cy="273.2" r="2.9" fill="url(#gr)"/>
<ellipse cx="106.5" cy="273.2" rx="0.9" ry="1.7" fill="#fff" opacity="0.9"/>
<path d="M103.7 300.4h6M103.7 310.8h6" stroke="#d8353e" stroke-width="1.6"/>
<circle cx="101.8" cy="305.6" r="3.1" fill="url(#gr)"/>
<circle cx="111.0" cy="305.6" r="2.9" fill="url(#gr)"/>
<ellipse cx="106.5" cy="305.6" rx="0.9" ry="1.7" fill="#fff" opacity="0.9"/>
<circle cx="46.7" cy="257.4" r="3.1" fill="url(#gb)"/>
<circle cx="62.3" cy="257.4" r="3.1" fill="url(#gb)"/>
<ellipse cx="54.5" cy="257.3" rx="0.8" ry="1.6" fill="#fff" opacity="0.8"/>
<circle cx="46.7" cy="289.8" r="3.1" fill="url(#gb)"/>
<circle cx="62.3" cy="289.8" r="3.1" fill="url(#gb)"/>
<ellipse cx="54.5" cy="289.7" rx="0.8" ry="1.6" fill="#fff" opacity="0.8"/>
<circle cx="46.7" cy="322.2" r="3.1" fill="url(#gb)"/>
<circle cx="62.3" cy="322.2" r="3.1" fill="url(#gb)"/>
<ellipse cx="54.5" cy="322.1" rx="0.8" ry="1.6" fill="#fff" opacity="0.8"/>
<circle cx="82.0" cy="257.4" r="3.1" fill="url(#gb)"/>
<circle cx="97.6" cy="257.4" r="3.1" fill="url(#gb)"/>
<ellipse cx="89.8" cy="257.3" rx="0.8" ry="1.6" fill="#fff" opacity="0.8"/>
<circle cx="82.0" cy="289.8" r="3.1" fill="url(#gb)"/>
<circle cx="97.6" cy="289.8" r="3.1" fill="url(#gb)"/>
<ellipse cx="89.8" cy="289.7" rx="0.8" ry="1.6" fill="#fff" opacity="0.8"/>
<circle cx="82.0" cy="322.2" r="3.1" fill="url(#gb)"/>
<circle cx="97.6" cy="322.2" r="3.1" fill="url(#gb)"/>
<ellipse cx="89.8" cy="322.1" rx="0.8" ry="1.6" fill="#fff" opacity="0.8"/>
<circle cx="117.2" cy="257.4" r="3.1" fill="url(#gb)"/>
<circle cx="132.8" cy="257.4" r="3.1" fill="url(#gb)"/>
<ellipse cx="125.0" cy="257.3" rx="0.8" ry="1.6" fill="#fff" opacity="0.8"/>
<circle cx="117.2" cy="289.8" r="3.1" fill="url(#gb)"/>
<circle cx="132.8" cy="289.8" r="3.1" fill="url(#gb)"/>
<ellipse cx="125.0" cy="289.7" rx="0.8" ry="1.6" fill="#fff" opacity="0.8"/>
<circle cx="117.2" cy="322.2" r="3.1" fill="url(#gb)"/>
<circle cx="132.8" cy="322.2" r="3.1" fill="url(#gb)"/>
<ellipse cx="125.0" cy="322.1" rx="0.8" ry="1.6" fill="#fff" opacity="0.8"/>
<line x1="146.6" y1="230.5" x2="146.6" y2="420" stroke="#444" stroke-width="0.8"/>
<line x1="4" y1="337.7" x2="181" y2="337.7" stroke="#444" stroke-width="0.8"/>
<line x1="156.0" y1="241.8" x2="154.8" y2="233.3" stroke="#3c78b8" stroke-width="2.7" stroke-linecap="round"/>
<line x1="178.1" y1="241.8" x2="179.1" y2="234.3" stroke="#d63a45" stroke-width="2.7" stroke-linecap="round"/>
<line x1="156.0" y1="241.8" x2="167.1" y2="241.8" stroke="#3c78b8" stroke-width="2.7" stroke-linecap="round"/>
<line x1="167.1" y1="241.8" x2="178.1" y2="241.8" stroke="#d63a45" stroke-width="2.7" stroke-linecap="round"/>
<line x1="156.0" y1="241.8" x2="154.3" y2="249.9" stroke="#3c78b8" stroke-width="2.7" stroke-linecap="round"/>
<line x1="154.3" y1="249.9" x2="152.6" y2="258.0" stroke="#d63a45" stroke-width="2.7" stroke-linecap="round"/>
<line x1="178.1" y1="241.8" x2="176.4" y2="249.9" stroke="#d63a45" stroke-width="2.7" stroke-linecap="round"/>
<line x1="176.4" y1="249.9" x2="174.7" y2="258.0" stroke="#3c78b8" stroke-width="2.7" stroke-linecap="round"/>
<line x1="152.6" y1="258.0" x2="163.7" y2="258.0" stroke="#d63a45" stroke-width="2.7" stroke-linecap="round"/>
<line x1="163.7" y1="258.0" x2="174.7" y2="258.0" stroke="#3c78b8" stroke-width="2.7" stroke-linecap="round"/>
<line x1="152.6" y1="258.0" x2="154.3" y2="266.1" stroke="#d63a45" stroke-width="2.7" stroke-linecap="round"/>
<line x1="154.3" y1="266.1" x2="156.0" y2="274.2" stroke="#3c78b8" stroke-width="2.7" stroke-linecap="round"/>
<line x1="174.7" y1="258.0" x2="176.4" y2="266.1" stroke="#3c78b8" stroke-width="2.7" stroke-linecap="round"/>
<line x1="176.4" y1="266.1" x2="178.1" y2="274.2" stroke="#d63a45" stroke-width="2.7" stroke-linecap="round"/>
<line x1="156.0" y1="274.2" x2="167.1" y2="274.2" stroke="#3c78b8" stroke-width="2.7" stroke-linecap="round"/>
<line x1="167.1" y1="274.2" x2="178.1" y2="274.2" stroke="#d63a45" stroke-width="2.7" stroke-linecap="round"/>
<line x1="156.0" y1="274.2" x2="154.3" y2="282.2" stroke="#3c78b8" stroke-width="2.7" stroke-linecap="round"/>
<line x1="154.3" y1="282.2" x2="152.6" y2="290.3" stroke="#d63a45" stroke-width="2.7" stroke-linecap="round"/>
<line x1="178.1" y1="274.2" x2="176.4" y2="282.2" stroke="#d63a45" stroke-width="2.7" stroke-linecap="round"/>
<line x1="176.4" y1="282.2" x2="174.7" y2="290.3" stroke="#3c78b8" stroke-width="2.7" stroke-linecap="round"/>
<line x1="152.6" y1="290.3" x2="163.7" y2="290.3" stroke="#d63a45" stroke-width="2.7" stroke-linecap="round"/>
<line x1="163.7" y1="290.3" x2="174.7" y2="290.3" stroke="#3c78b8" stroke-width="2.7" stroke-linecap="round"/>
<line x1="152.6" y1="290.3" x2="154.3" y2="298.2" stroke="#d63a45" stroke-width="2.7" stroke-linecap="round"/>
<line x1="154.3" y1="298.2" x2="156.0" y2="306.2" stroke="#3c78b8" stroke-width="2.7" stroke-linecap="round"/>
<line x1="174.7" y1="290.3" x2="176.4" y2="298.2" stroke="#3c78b8" stroke-width="2.7" stroke-linecap="round"/>
<line x1="176.4" y1="298.2" x2="178.1" y2="306.2" stroke="#d63a45" stroke-width="2.7" stroke-linecap="round"/>
<line x1="156.0" y1="306.2" x2="167.1" y2="306.2" stroke="#3c78b8" stroke-width="2.7" stroke-linecap="round"/>
<line x1="167.1" y1="306.2" x2="178.1" y2="306.2" stroke="#d63a45" stroke-width="2.7" stroke-linecap="round"/>
<line x1="156.0" y1="306.2" x2="154.3" y2="314.4" stroke="#3c78b8" stroke-width="2.7" stroke-linecap="round"/>
<line x1="154.3" y1="314.4" x2="152.6" y2="322.6" stroke="#d63a45" stroke-width="2.7" stroke-linecap="round"/>
<line x1="178.1" y1="306.2" x2="176.4" y2="314.4" stroke="#d63a45" stroke-width="2.7" stroke-linecap="round"/>
<line x1="176.4" y1="314.4" x2="174.7" y2="322.6" stroke="#3c78b8" stroke-width="2.7" stroke-linecap="round"/>
<line x1="152.6" y1="322.6" x2="163.7" y2="322.6" stroke="#d63a45" stroke-width="2.7" stroke-linecap="round"/>
<line x1="163.7" y1="322.6" x2="174.7" y2="322.6" stroke="#3c78b8" stroke-width="2.7" stroke-linecap="round"/>
<line x1="174.7" y1="322.6" x2="175.5" y2="331.6" stroke="#3c78b8" stroke-width="2.7" stroke-linecap="round"/>
<line x1="174.7" y1="322.6" x2="179.7" y2="322.6" stroke="#3c78b8" stroke-width="2.7" stroke-linecap="round"/>
<line x1="152.6" y1="322.6" x2="148.6" y2="324.6" stroke="#d63a45" stroke-width="2.7" stroke-linecap="round"/>
<circle cx="156.0" cy="241.8" r="2.8" fill="url(#gb)"/>
<circle cx="178.1" cy="241.8" r="2.8" fill="url(#gr)"/>
<circle cx="152.6" cy="258.0" r="2.8" fill="url(#gr)"/>
<circle cx="174.7" cy="258.0" r="2.8" fill="url(#gb)"/>
<circle cx="156.0" cy="274.2" r="2.8" fill="url(#gb)"/>
<circle cx="178.1" cy="274.2" r="2.8" fill="url(#gr)"/>
<circle cx="152.6" cy="290.3" r="2.8" fill="url(#gr)"/>
<circle cx="174.7" cy="290.3" r="2.8" fill="url(#gb)"/>
<circle cx="156.0" cy="306.2" r="2.8" fill="url(#gb)"/>
<circle cx="178.1" cy="306.2" r="2.8" fill="url(#gr)"/>
<circle cx="152.6" cy="322.6" r="2.8" fill="url(#gr)"/>
<circle cx="174.7" cy="322.6" r="2.8" fill="url(#gb)"/>
<line x1="32.7" y1="368.1" x2="36.9" y2="368.6" stroke="#d63a45" stroke-width="2.7" stroke-linecap="round"/>
<line x1="36.9" y1="368.6" x2="41.0" y2="369.1" stroke="#d63a45" stroke-width="2.7" stroke-linecap="round"/>
<line x1="41.0" y1="369.1" x2="42.0" y2="358.5" stroke="#d63a45" stroke-width="2.7" stroke-linecap="round"/>
<line x1="42.0" y1="358.5" x2="43.1" y2="347.8" stroke="#3c78b8" stroke-width="2.7" stroke-linecap="round"/>
<line x1="43.1" y1="347.8" x2="50.5" y2="346.1" stroke="#3c78b8" stroke-width="2.7" stroke-linecap="round"/>
<line x1="50.5" y1="346.1" x2="58.0" y2="344.3" stroke="#d63a45" stroke-width="2.7" stroke-linecap="round"/>
<line x1="58.0" y1="344.3" x2="59.6" y2="355.4" stroke="#d63a45" stroke-width="2.7" stroke-linecap="round"/>
<line x1="59.6" y1="355.4" x2="61.3" y2="366.4" stroke="#3c78b8" stroke-width="2.7" stroke-linecap="round"/>
<line x1="61.3" y1="366.4" x2="68.8" y2="367.8" stroke="#3c78b8" stroke-width="2.7" stroke-linecap="round"/>
<line x1="68.8" y1="367.8" x2="76.2" y2="369.1" stroke="#d63a45" stroke-width="2.7" stroke-linecap="round"/>
<line x1="76.2" y1="369.1" x2="77.8" y2="358.5" stroke="#d63a45" stroke-width="2.7" stroke-linecap="round"/>
<line x1="77.8" y1="358.5" x2="79.3" y2="347.8" stroke="#3c78b8" stroke-width="2.7" stroke-linecap="round"/>
<line x1="79.3" y1="347.8" x2="86.5" y2="345.8" stroke="#3c78b8" stroke-width="2.7" stroke-linecap="round"/>
<line x1="86.5" y1="345.8" x2="93.7" y2="343.7" stroke="#d63a45" stroke-width="2.7" stroke-linecap="round"/>
<line x1="93.7" y1="343.7" x2="95.5" y2="354.9" stroke="#d63a45" stroke-width="2.7" stroke-linecap="round"/>
<line x1="95.5" y1="354.9" x2="97.3" y2="366.0" stroke="#3c78b8" stroke-width="2.7" stroke-linecap="round"/>
<line x1="97.3" y1="366.0" x2="104.5" y2="367.6" stroke="#3c78b8" stroke-width="2.7" stroke-linecap="round"/>
<line x1="104.5" y1="367.6" x2="111.7" y2="369.1" stroke="#d63a45" stroke-width="2.7" stroke-linecap="round"/>
<line x1="111.7" y1="369.1" x2="113.6" y2="358.2" stroke="#d63a45" stroke-width="2.7" stroke-linecap="round"/>
<line x1="113.6" y1="358.2" x2="115.5" y2="347.4" stroke="#3c78b8" stroke-width="2.7" stroke-linecap="round"/>
<line x1="115.5" y1="347.4" x2="122.2" y2="345.9" stroke="#3c78b8" stroke-width="2.7" stroke-linecap="round"/>
<line x1="122.2" y1="345.9" x2="128.9" y2="344.3" stroke="#d63a45" stroke-width="2.7" stroke-linecap="round"/>
<line x1="128.9" y1="344.3" x2="131.3" y2="355.1" stroke="#d63a45" stroke-width="2.7" stroke-linecap="round"/>
<line x1="131.3" y1="355.1" x2="133.7" y2="366.0" stroke="#3c78b8" stroke-width="2.7" stroke-linecap="round"/>
<line x1="133.7" y1="366.0" x2="137.2" y2="366.2" stroke="#3c78b8" stroke-width="2.7" stroke-linecap="round"/>
<line x1="137.2" y1="366.2" x2="140.7" y2="366.4" stroke="#3c78b8" stroke-width="2.7" stroke-linecap="round"/>
<circle cx="41.0" cy="369.1" r="2.9" fill="url(#gr)"/>
<circle cx="43.1" cy="347.8" r="2.9" fill="url(#gb)"/>
<circle cx="58.0" cy="344.3" r="2.9" fill="url(#gr)"/>
<circle cx="61.3" cy="366.4" r="2.9" fill="url(#gb)"/>
<circle cx="76.2" cy="369.1" r="2.9" fill="url(#gr)"/>
<circle cx="79.3" cy="347.8" r="2.9" fill="url(#gb)"/>
<circle cx="93.7" cy="343.7" r="2.9" fill="url(#gr)"/>
<circle cx="97.3" cy="366.0" r="2.9" fill="url(#gb)"/>
<circle cx="111.7" cy="369.1" r="2.9" fill="url(#gr)"/>
<circle cx="115.5" cy="347.4" r="2.9" fill="url(#gb)"/>
<circle cx="128.9" cy="344.3" r="2.9" fill="url(#gr)"/>
<circle cx="133.7" cy="366.0" r="2.9" fill="url(#gb)"/>
<line x1="20.3" y1="392.9" x2="24.2" y2="393.4" stroke="#3c78b8" stroke-width="2.7" stroke-linecap="round"/>
<line x1="24.2" y1="393.4" x2="28.2" y2="393.9" stroke="#3c78b8" stroke-width="2.7" stroke-linecap="round"/>
<line x1="28.2" y1="393.9" x2="29.4" y2="404.2" stroke="#3c78b8" stroke-width="2.7" stroke-linecap="round"/>
<line x1="29.4" y1="404.2" x2="30.7" y2="414.6" stroke="#d63a45" stroke-width="2.7" stroke-linecap="round"/>
<line x1="30.7" y1="414.6" x2="38.1" y2="413.6" stroke="#d63a45" stroke-width="2.7" stroke-linecap="round"/>
<line x1="38.1" y1="413.6" x2="45.6" y2="412.5" stroke="#3c78b8" stroke-width="2.7" stroke-linecap="round"/>
<line x1="45.6" y1="412.5" x2="47.2" y2="401.6" stroke="#3c78b8" stroke-width="2.7" stroke-linecap="round"/>
<line x1="47.2" y1="401.6" x2="48.9" y2="390.8" stroke="#d63a45" stroke-width="2.7" stroke-linecap="round"/>
<line x1="48.9" y1="390.8" x2="56.1" y2="392.4" stroke="#d63a45" stroke-width="2.7" stroke-linecap="round"/>
<line x1="56.1" y1="392.4" x2="63.3" y2="393.9" stroke="#3c78b8" stroke-width="2.7" stroke-linecap="round"/>
<line x1="63.3" y1="393.9" x2="64.8" y2="404.5" stroke="#3c78b8" stroke-width="2.7" stroke-linecap="round"/>
<line x1="64.8" y1="404.5" x2="66.2" y2="415.2" stroke="#d63a45" stroke-width="2.7" stroke-linecap="round"/>
<line x1="66.2" y1="415.2" x2="73.8" y2="413.9" stroke="#d63a45" stroke-width="2.7" stroke-linecap="round"/>
<line x1="73.8" y1="413.9" x2="81.3" y2="412.5" stroke="#3c78b8" stroke-width="2.7" stroke-linecap="round"/>
<line x1="81.3" y1="412.5" x2="82.8" y2="401.4" stroke="#3c78b8" stroke-width="2.7" stroke-linecap="round"/>
<line x1="82.8" y1="401.4" x2="84.4" y2="390.4" stroke="#d63a45" stroke-width="2.7" stroke-linecap="round"/>
<line x1="84.4" y1="390.4" x2="91.8" y2="392.1" stroke="#d63a45" stroke-width="2.7" stroke-linecap="round"/>
<line x1="91.8" y1="392.1" x2="99.3" y2="393.9" stroke="#3c78b8" stroke-width="2.7" stroke-linecap="round"/>
<line x1="99.3" y1="393.9" x2="100.7" y2="404.5" stroke="#3c78b8" stroke-width="2.7" stroke-linecap="round"/>
<line x1="100.7" y1="404.5" x2="102.0" y2="415.2" stroke="#d63a45" stroke-width="2.7" stroke-linecap="round"/>
<line x1="102.0" y1="415.2" x2="109.8" y2="413.9" stroke="#d63a45" stroke-width="2.7" stroke-linecap="round"/>
<line x1="109.8" y1="413.9" x2="117.5" y2="412.5" stroke="#3c78b8" stroke-width="2.7" stroke-linecap="round"/>
<line x1="117.5" y1="412.5" x2="119.3" y2="401.1" stroke="#3c78b8" stroke-width="2.7" stroke-linecap="round"/>
<line x1="119.3" y1="401.1" x2="121.2" y2="389.8" stroke="#d63a45" stroke-width="2.7" stroke-linecap="round"/>
<line x1="121.2" y1="389.8" x2="124.8" y2="390.3" stroke="#d63a45" stroke-width="2.7" stroke-linecap="round"/>
<line x1="124.8" y1="390.3" x2="128.3" y2="390.8" stroke="#d63a45" stroke-width="2.7" stroke-linecap="round"/>
<circle cx="28.2" cy="393.9" r="2.9" fill="url(#gb)"/>
<circle cx="30.7" cy="414.6" r="2.9" fill="url(#gr)"/>
<circle cx="45.6" cy="412.5" r="2.9" fill="url(#gb)"/>
<circle cx="48.9" cy="390.8" r="2.9" fill="url(#gr)"/>
<circle cx="63.3" cy="393.9" r="2.9" fill="url(#gb)"/>
<circle cx="66.2" cy="415.2" r="2.9" fill="url(#gr)"/>
<circle cx="81.3" cy="412.5" r="2.9" fill="url(#gb)"/>
<circle cx="84.4" cy="390.4" r="2.9" fill="url(#gr)"/>
<circle cx="99.3" cy="393.9" r="2.9" fill="url(#gb)"/>
<circle cx="102.0" cy="415.2" r="2.9" fill="url(#gr)"/>
<circle cx="117.5" cy="412.5" r="2.9" fill="url(#gb)"/>
<circle cx="121.2" cy="389.8" r="2.9" fill="url(#gr)"/>
<rect x="127.3" y="322.5" width="17.2" height="11.6" fill="#fff" stroke="#222" stroke-width="0.8"/>
<circle cx="132.2" cy="328.3" r="2.9" fill="none" stroke="#222" stroke-width="0.6"/>
<path d="M130.3 326.4L134.1 330.2M130.3 330.2L134.1 326.4" stroke="#222" stroke-width="0.6"/>
<text x="137.9" y="331.3" font-size="10.5" font-style="italic" fill="#111">z</text>
<rect x="149.4" y="322.5" width="17.2" height="11.6" fill="#fff" stroke="#222" stroke-width="0.8"/>
<circle cx="154.3" cy="328.3" r="2.9" fill="none" stroke="#222" stroke-width="0.6"/>
<path d="M152.4 326.4L156.2 330.2M152.4 330.2L156.2 326.4" stroke="#222" stroke-width="0.6"/>
<text x="160.0" y="331.3" font-size="10.5" font-style="italic" fill="#111">y</text>
<rect x="127.3" y="341.0" width="17.2" height="11.2" fill="#fff" stroke="#222" stroke-width="0.8"/>
<circle cx="132.2" cy="346.6" r="2.9" fill="none" stroke="#222" stroke-width="0.6"/>
<path d="M130.3 344.7L134.1 348.5M130.3 348.5L134.1 344.7" stroke="#222" stroke-width="0.6"/>
<text x="137.9" y="349.6" font-size="10.5" font-style="italic" fill="#111">x</text>
</g>
<g id="pc">
<rect x="194" y="233.3" width="165.4" height="186.6" fill="#655c9f"/>
<polygon points="277.8,257.4 335.8,319.4 278.5,378.5 221.8,315.5" fill="#3e3676" stroke="#3e3676" stroke-width="3" stroke-linejoin="round" filter="url(#blur1)" transform="translate(-1.2,1.0)"/>
<polygon points="277.8,257.4 335.8,319.4 278.5,378.5 221.8,315.5" fill="#dcd5ef" filter="url(#blur2)"/>
<polygon points="277.8,260.6 332.8,319.4 278.5,375.4 225.0,315.5" fill="#e6e0f5" filter="url(#blur2)"/>
<path d="M277.8 252 L277.8 319.1 L348 319.1" fill="none" stroke="#0a0a0a" stroke-width="2.4"/>
<path d="M277.8 247.2 L274.7 253.4 L280.9 253.4z" fill="#0a0a0a"/>
<path d="M353.3 319.1 L346.8 315.8 L346.8 322.4z" fill="#0a0a0a"/>
<text x="282.6" y="260" font-size="9" font-style="italic" fill="#bdb8d8" opacity="0.8">y</text>
<text x="341.2" y="314.6" font-size="9" font-style="italic" fill="#cdc8e2" opacity="0.9">x</text>
<rect x="307.8" y="397.8" width="36.1" height="4.4" fill="#fff"/>
<line x1="277" y1="372.6" x2="254.6" y2="347.3" stroke="#111" stroke-width="1.5" stroke-dasharray="4.2 2.4" marker-end="url(#ahs)"/>
<line x1="280" y1="372.6" x2="309.4" y2="340.7" stroke="#111" stroke-width="1.5" stroke-dasharray="4.2 2.4" marker-end="url(#ahs)"/>
<path d="M271.7 366.9 Q278.6 359.6 286.2 366.0" fill="none" stroke="#111" stroke-width="1.4" stroke-dasharray="3 1.8"/>
<text x="268.2" y="359.6" font-size="10.4" fill="#111">~85°</text>
<text x="197.6" y="245.7" font-size="14.5" font-weight="bold" fill="#fff">c</text>
<rect x="359.8" y="232.3" width="60.2" height="61.4" fill="#6f6f6f"/>
<rect x="359.8" y="232.3" width="60.2" height="7.7" fill="#939393"/>
<rect x="359.8" y="282.7" width="60.2" height="11" fill="#7f7f7f"/>
<polygon points="389.3,236.2 414.7,265.3 389.6,291.4 364.1,263.8" fill="#a3a3a3" stroke="#d9d9d9" stroke-width="1.1" stroke-linejoin="round"/>
<path d="M389.3 237.4 L413.2 265.3 L399 280 Q402.5 270 397.5 262 Q392 254 394 246 Q393 241 389.3 237.4z" fill="#b9b9b9"/>
<path d="M394 246 Q392 254 397.5 262 Q402.5 270 399 280" fill="none" stroke="#d4d4d4" stroke-width="0.7"/>
<path d="M365.6 264 L389.6 290 L393 286.5 L370 262z" fill="#b0b0b0" opacity="0.7"/>
<rect x="359.8" y="293.5" width="60.0" height="65.6" fill="#15060e"/>
<rect x="359.8" y="293.5" width="60.0" height="65.6" filter="url(#nzS)" opacity="0.07"/>
<polygon points="389.4,301.6 411.9,326.6 390.0,350.2 366.0,325.0" fill="#a41556"/>
<clipPath id="cS"><polygon points="389.4,301.6 411.9,326.6 390.0,350.2 366.0,325.0"/></clipPath>
<rect x="359.8" y="293.5" width="60.4" height="65.6" filter="url(#nzS2)" clip-path="url(#cS)" opacity="0.55"/>
<text x="361.4" y="305.2" font-size="10.5" font-weight="bold" fill="#9a9a9a">S</text>
<rect x="359.8" y="359.1" width="60.0" height="62.4" fill="#081c1f"/>
<rect x="359.8" y="359.1" width="60.0" height="62.4" filter="url(#nzT)" opacity="0.3"/>
<polygon points="390.0,365.0 412.8,390.0 389.4,414.4 366.6,389.0" fill="#040c0e" opacity="0.95" transform="translate(-3,3)"/>
<polygon points="390.0,365.0 412.8,390.0 389.4,414.4 366.6,389.0" fill="#25a2a4"/>
<clipPath id="cT"><polygon points="390.0,365.0 412.8,390.0 389.4,414.4 366.6,389.0"/></clipPath>
<rect x="359.8" y="359.1" width="60.4" height="62.2" filter="url(#nzT2)" clip-path="url(#cT)" opacity="0.75"/>
<text x="361.4" y="370.2" font-size="10.5" font-weight="bold" fill="#9aa8a8">Sn</text>
</g>
<g id="pd">
<text x="433.6" y="241.8" font-size="14.5" font-weight="bold">d</text>
<clipPath id="cD"><rect x="478.5" y="238.4" width="199.4" height="158.8"/></clipPath>
<g clip-path="url(#cD)">
<path d="M476.8 388.4h3.5v3.5h-3.5zM477.3 388.3h3.5v3.5h-3.5zM477.8 388.1h3.5v3.5h-3.5zM478.3 388.0h3.5v3.5h-3.5zM478.8 387.9h3.5v3.5h-3.5zM479.3 387.7h3.5v3.5h-3.5zM479.9 387.5h3.5v3.5h-3.5zM480.4 387.2h3.4v3.4h-3.4zM480.9 386.9h3.4v3.4h-3.4zM481.4 386.5h3.4v3.4h-3.4zM481.9 386.1h3.3v3.3h-3.3zM482.5 385.7h3.3v3.3h-3.3zM483.0 385.1h3.3v3.3h-3.3zM483.5 384.6h3.3v3.3h-3.3zM483.9 384.1h3.3v3.3h-3.3zM484.4 383.7h3.4v3.4h-3.4zM484.8 383.5h3.6v3.6h-3.6zM485.4 383.6h3.5v3.5h-3.5zM485.9 383.9h3.4v3.4h-3.4zM486.5 384.4h3.3v3.3h-3.3zM487.0 384.9h3.3v3.3h-3.3zM487.5 385.4h3.3v3.3h-3.3zM488.0 385.9h3.3v3.3h-3.3zM488.5 386.4h3.3v3.3h-3.3zM488.9 386.7h3.4v3.4h-3.4zM489.4 387.1h3.4v3.4h-3.4zM489.9 387.3h3.4v3.4h-3.4zM490.4 387.6h3.5v3.5h-3.5zM490.9 387.8h3.5v3.5h-3.5zM491.4 387.9h3.5v3.5h-3.5zM491.9 388.1h3.5v3.5h-3.5zM492.4 388.2h3.5v3.5h-3.5zM492.9 388.3h3.5v3.5h-3.5zM493.4 388.4h3.6v3.6h-3.6zM493.9 388.4h3.6v3.6h-3.6zM494.4 388.5h3.6v3.6h-3.6zM494.9 388.5h3.6v3.6h-3.6zM495.4 388.6h3.6v3.6h-3.6zM495.9 388.6h3.6v3.6h-3.6zM496.4 388.7h3.6v3.6h-3.6zM496.9 388.7h3.6v3.6h-3.6zM497.4 388.7h3.6v3.6h-3.6zM497.9 388.8h3.6v3.6h-3.6zM498.4 388.8h3.6v3.6h-3.6zM498.9 388.8h3.6v3.6h-3.6zM499.4 388.8h3.6v3.6h-3.6zM499.9 388.8h3.6v3.6h-3.6zM500.4 388.9h3.6v3.6h-3.6zM500.9 388.9h3.6v3.6h-3.6zM501.4 388.9h3.6v3.6h-3.6zM501.9 388.9h3.6v3.6h-3.6zM502.4 388.9h3.6v3.6h-3.6zM502.9 388.9h3.6v3.6h-3.6zM503.4 388.9h3.6v3.6h-3.6zM503.9 388.9h3.6v3.6h-3.6zM504.4 388.9h3.6v3.6h-3.6zM504.9 388.9h3.6v3.6h-3.6zM505.4 388.9h3.6v3.6h-3.6zM505.9 389.0h3.6v3.6h-3.6zM506.4 389.0h3.6v3.6h-3.6zM506.9 389.0h3.6v3.6h-3.6zM507.4 389.0h3.6v3.6h-3.6zM507.9 389.0h3.6v3.6h-3.6zM508.4 389.0h3.6v3.6h-3.6zM509.0 389.0h3.6v3.6h-3.6zM509.5 389.0h3.6v3.6h-3.6zM510.0 389.0h3.6v3.6h-3.6zM510.5 389.0h3.6v3.6h-3.6zM511.0 389.0h3.6v3.6h-3.6zM511.5 389.0h3.6v3.6h-3.6zM512.0 389.0h3.6v3.6h-3.6zM512.5 389.0h3.6v3.6h-3.6zM513.0 389.0h3.6v3.6h-3.6zM513.5 389.0h3.6v3.6h-3.6zM514.0 389.0h3.6v3.6h-3.6zM514.5 389.0h3.6v3.6h-3.6zM515.0 389.0h3.6v3.6h-3.6zM515.5 389.0h3.6v3.6h-3.6zM516.0 388.9h3.6v3.6h-3.6zM516.5 388.9h3.6v3.6h-3.6zM517.0 388.9h3.6v3.6h-3.6zM517.5 388.9h3.6v3.6h-3.6zM518.0 388.9h3.6v3.6h-3.6zM518.5 388.9h3.6v3.6h-3.6zM519.0 388.9h3.6v3.6h-3.6zM519.5 388.9h3.6v3.6h-3.6zM520.0 388.9h3.6v3.6h-3.6zM520.5 388.9h3.6v3.6h-3.6zM521.0 388.9h3.6v3.6h-3.6zM521.5 388.9h3.6v3.6h-3.6zM522.0 388.9h3.6v3.6h-3.6zM522.5 388.9h3.6v3.6h-3.6zM523.0 388.9h3.6v3.6h-3.6zM523.5 388.9h3.6v3.6h-3.6zM524.0 388.9h3.6v3.6h-3.6zM524.5 388.9h3.6v3.6h-3.6zM525.0 388.9h3.6v3.6h-3.6zM525.5 388.9h3.6v3.6h-3.6zM526.0 388.9h3.6v3.6h-3.6zM526.6 388.8h3.6v3.6h-3.6zM527.1 388.8h3.6v3.6h-3.6zM527.6 388.8h3.6v3.6h-3.6zM528.1 388.8h3.6v3.6h-3.6zM528.6 388.8h3.6v3.6h-3.6zM529.1 388.8h3.6v3.6h-3.6zM529.6 388.8h3.6v3.6h-3.6zM530.1 388.8h3.6v3.6h-3.6zM530.6 388.8h3.6v3.6h-3.6zM531.1 388.8h3.6v3.6h-3.6zM531.6 388.8h3.6v3.6h-3.6zM532.1 388.7h3.6v3.6h-3.6zM532.6 388.7h3.6v3.6h-3.6zM533.1 388.7h3.6v3.6h-3.6zM533.6 388.7h3.6v3.6h-3.6zM534.1 388.7h3.6v3.6h-3.6zM534.6 388.7h3.6v3.6h-3.6zM535.1 388.7h3.6v3.6h-3.6zM535.6 388.7h3.6v3.6h-3.6zM536.1 388.6h3.6v3.6h-3.6zM536.6 388.6h3.6v3.6h-3.6zM537.1 388.6h3.6v3.6h-3.6zM537.6 388.6h3.6v3.6h-3.6zM538.1 388.6h3.6v3.6h-3.6zM538.6 388.6h3.6v3.6h-3.6zM539.1 388.6h3.6v3.6h-3.6zM539.6 388.5h3.6v3.6h-3.6zM540.1 388.5h3.6v3.6h-3.6zM540.6 388.5h3.6v3.6h-3.6zM541.1 388.5h3.6v3.6h-3.6zM541.6 388.5h3.6v3.6h-3.6zM542.1 388.4h3.6v3.6h-3.6zM542.6 388.4h3.6v3.6h-3.6zM543.1 388.4h3.6v3.6h-3.6zM543.7 388.4h3.6v3.6h-3.6zM544.2 388.3h3.6v3.6h-3.6zM544.7 388.3h3.6v3.6h-3.6zM545.2 388.3h3.6v3.6h-3.6zM545.7 388.3h3.6v3.6h-3.6zM546.2 388.2h3.6v3.6h-3.6zM546.7 388.2h3.6v3.6h-3.6zM547.2 388.2h3.6v3.6h-3.6zM547.7 388.1h3.6v3.6h-3.6zM548.2 388.1h3.6v3.6h-3.6zM548.7 388.1h3.6v3.6h-3.6zM549.2 388.0h3.6v3.6h-3.6zM549.7 388.0h3.6v3.6h-3.6zM550.2 387.9h3.6v3.6h-3.6zM550.7 387.9h3.6v3.6h-3.6zM551.2 387.9h3.6v3.6h-3.6zM551.7 387.8h3.6v3.6h-3.6zM552.2 387.8h3.6v3.6h-3.6zM552.7 387.7h3.6v3.6h-3.6zM553.2 387.6h3.6v3.6h-3.6zM553.7 387.6h3.6v3.6h-3.6zM554.2 387.5h3.6v3.6h-3.6zM554.7 387.5h3.6v3.6h-3.6zM555.2 387.4h3.6v3.6h-3.6zM555.7 387.3h3.6v3.6h-3.6zM556.2 387.2h3.6v3.6h-3.6zM556.7 387.2h3.6v3.6h-3.6zM557.2 387.1h3.5v3.5h-3.5zM557.8 387.0h3.5v3.5h-3.5zM558.3 386.9h3.5v3.5h-3.5zM558.8 386.8h3.5v3.5h-3.5zM559.3 386.7h3.5v3.5h-3.5zM559.8 386.6h3.5v3.5h-3.5zM560.3 386.5h3.5v3.5h-3.5zM560.8 386.4h3.5v3.5h-3.5zM561.3 386.3h3.5v3.5h-3.5zM561.8 386.2h3.5v3.5h-3.5zM562.3 386.0h3.5v3.5h-3.5zM562.8 385.9h3.5v3.5h-3.5zM563.3 385.8h3.5v3.5h-3.5zM563.8 385.7h3.5v3.5h-3.5zM564.3 385.6h3.5v3.5h-3.5zM564.8 385.5h3.5v3.5h-3.5zM565.3 385.4h3.5v3.5h-3.5zM565.8 385.3h3.6v3.6h-3.6zM566.3 385.3h3.6v3.6h-3.6zM566.8 385.2h3.6v3.6h-3.6zM567.3 385.1h3.6v3.6h-3.6zM567.8 385.1h3.6v3.6h-3.6zM568.3 385.1h3.6v3.6h-3.6zM568.8 385.1h3.6v3.6h-3.6zM569.3 385.1h3.6v3.6h-3.6zM569.8 385.1h3.6v3.6h-3.6zM570.3 385.1h3.6v3.6h-3.6zM570.8 385.2h3.6v3.6h-3.6zM571.3 385.2h3.6v3.6h-3.6zM571.8 385.2h3.6v3.6h-3.6zM572.3 385.3h3.6v3.6h-3.6zM572.8 385.3h3.6v3.6h-3.6zM573.3 385.4h3.6v3.6h-3.6zM573.8 385.4h3.6v3.6h-3.6zM574.3 385.5h3.6v3.6h-3.6zM574.8 385.5h3.6v3.6h-3.6zM575.3 385.5h3.6v3.6h-3.6zM575.8 385.6h3.6v3.6h-3.6zM576.3 385.6h3.6v3.6h-3.6zM576.8 385.6h3.6v3.6h-3.6zM577.3 385.7h3.6v3.6h-3.6zM577.8 385.7h3.6v3.6h-3.6zM578.3 385.7h3.6v3.6h-3.6zM578.8 385.7h3.6v3.6h-3.6zM579.3 385.7h3.6v3.6h-3.6zM579.9 385.7h3.6v3.6h-3.6zM580.4 385.7h3.6v3.6h-3.6zM580.9 385.6h3.6v3.6h-3.6zM581.4 385.6h3.6v3.6h-3.6zM581.9 385.6h3.6v3.6h-3.6zM582.4 385.5h3.6v3.6h-3.6zM582.9 385.5h3.6v3.6h-3.6zM583.4 385.4h3.6v3.6h-3.6zM583.9 385.4h3.6v3.6h-3.6zM584.4 385.3h3.6v3.6h-3.6zM584.9 385.3h3.6v3.6h-3.6zM585.4 385.2h3.6v3.6h-3.6zM585.9 385.1h3.5v3.5h-3.5zM586.4 385.0h3.5v3.5h-3.5zM586.9 384.9h3.5v3.5h-3.5zM587.4 384.8h3.5v3.5h-3.5zM587.9 384.7h3.5v3.5h-3.5zM588.4 384.6h3.5v3.5h-3.5zM588.9 384.5h3.5v3.5h-3.5zM589.4 384.3h3.5v3.5h-3.5zM590.0 384.2h3.5v3.5h-3.5zM590.5 384.0h3.5v3.5h-3.5zM591.0 383.9h3.5v3.5h-3.5zM591.5 383.7h3.5v3.5h-3.5zM592.0 383.5h3.5v3.5h-3.5zM592.5 383.3h3.5v3.5h-3.5zM593.0 383.1h3.5v3.5h-3.5zM593.5 382.9h3.5v3.5h-3.5zM594.0 382.7h3.5v3.5h-3.5zM594.5 382.5h3.5v3.5h-3.5zM595.0 382.2h3.4v3.4h-3.4zM595.5 381.9h3.4v3.4h-3.4zM596.0 381.7h3.4v3.4h-3.4zM596.5 381.4h3.4v3.4h-3.4zM597.0 381.1h3.4v3.4h-3.4zM597.6 380.7h3.4v3.4h-3.4zM598.1 380.4h3.4v3.4h-3.4zM598.6 380.0h3.4v3.4h-3.4zM599.1 379.6h3.4v3.4h-3.4zM599.6 379.2h3.4v3.4h-3.4zM600.1 378.8h3.3v3.3h-3.3zM600.6 378.4h3.3v3.3h-3.3zM601.1 377.9h3.3v3.3h-3.3zM601.6 377.4h3.3v3.3h-3.3zM602.1 376.9h3.3v3.3h-3.3zM602.6 376.4h3.3v3.3h-3.3zM603.1 375.9h3.3v3.3h-3.3zM603.6 375.4h3.3v3.3h-3.3zM604.2 374.8h3.3v3.3h-3.3zM604.7 374.2h3.3v3.3h-3.3zM605.2 373.7h3.3v3.3h-3.3zM605.7 373.1h3.3v3.3h-3.3zM606.2 372.5h3.3v3.3h-3.3zM606.7 371.9h3.3v3.3h-3.3zM607.2 371.4h3.3v3.3h-3.3zM607.7 370.8h3.3v3.3h-3.3zM608.2 370.3h3.3v3.3h-3.3zM608.6 369.9h3.3v3.3h-3.3zM609.1 369.4h3.4v3.4h-3.4zM609.6 369.0h3.4v3.4h-3.4zM610.1 368.7h3.4v3.4h-3.4zM610.6 368.5h3.5v3.5h-3.5zM611.1 368.3h3.5v3.5h-3.5zM611.5 368.1h3.6v3.6h-3.6zM612.0 368.1h3.6v3.6h-3.6zM612.6 368.1h3.6v3.6h-3.6zM613.1 368.3h3.5v3.5h-3.5zM613.6 368.5h3.5v3.5h-3.5zM614.1 368.7h3.4v3.4h-3.4zM614.6 369.1h3.4v3.4h-3.4zM615.2 369.5h3.4v3.4h-3.4zM615.7 369.9h3.3v3.3h-3.3zM616.2 370.3h3.3v3.3h-3.3zM616.7 370.8h3.3v3.3h-3.3zM617.2 371.4h3.3v3.3h-3.3zM617.7 371.9h3.3v3.3h-3.3zM618.2 372.4h3.3v3.3h-3.3zM618.7 373.0h3.3v3.3h-3.3zM619.2 373.5h3.3v3.3h-3.3zM619.7 374.1h3.3v3.3h-3.3zM620.2 374.6h3.3v3.3h-3.3zM620.7 375.1h3.3v3.3h-3.3zM621.2 375.6h3.3v3.3h-3.3zM621.7 376.1h3.3v3.3h-3.3zM622.2 376.6h3.3v3.3h-3.3zM622.7 377.1h3.3v3.3h-3.3zM623.2 377.5h3.3v3.3h-3.3zM623.7 377.9h3.4v3.4h-3.4zM624.2 378.3h3.4v3.4h-3.4zM624.7 378.7h3.4v3.4h-3.4zM625.2 379.0h3.4v3.4h-3.4zM625.7 379.4h3.4v3.4h-3.4zM626.2 379.7h3.4v3.4h-3.4zM626.7 380.0h3.4v3.4h-3.4zM627.2 380.2h3.4v3.4h-3.4zM627.7 380.5h3.5v3.5h-3.5zM628.2 380.7h3.5v3.5h-3.5zM628.7 380.9h3.5v3.5h-3.5zM629.2 381.1h3.5v3.5h-3.5zM629.7 381.3h3.5v3.5h-3.5zM630.2 381.5h3.5v3.5h-3.5zM630.7 381.6h3.5v3.5h-3.5zM631.2 381.7h3.5v3.5h-3.5zM631.7 381.9h3.5v3.5h-3.5zM632.2 382.0h3.5v3.5h-3.5zM632.7 382.0h3.6v3.6h-3.6zM633.2 382.1h3.6v3.6h-3.6zM633.7 382.2h3.6v3.6h-3.6zM634.2 382.2h3.6v3.6h-3.6zM634.7 382.2h3.6v3.6h-3.6zM635.2 382.2h3.6v3.6h-3.6zM635.7 382.2h3.6v3.6h-3.6zM636.2 382.2h3.6v3.6h-3.6zM636.7 382.2h3.6v3.6h-3.6zM637.2 382.1h3.6v3.6h-3.6zM637.7 382.0h3.5v3.5h-3.5zM638.2 381.9h3.5v3.5h-3.5zM638.7 381.8h3.5v3.5h-3.5zM639.2 381.7h3.5v3.5h-3.5zM639.7 381.5h3.5v3.5h-3.5zM640.2 381.4h3.5v3.5h-3.5zM640.8 381.2h3.5v3.5h-3.5zM641.3 381.0h3.5v3.5h-3.5zM641.8 380.7h3.4v3.4h-3.4zM642.3 380.5h3.4v3.4h-3.4zM642.8 380.2h3.4v3.4h-3.4zM643.3 379.9h3.4v3.4h-3.4zM643.8 379.6h3.4v3.4h-3.4zM644.3 379.2h3.4v3.4h-3.4zM644.8 378.9h3.4v3.4h-3.4zM645.3 378.5h3.4v3.4h-3.4zM645.8 378.1h3.4v3.4h-3.4zM646.3 377.8h3.4v3.4h-3.4zM646.8 377.4h3.4v3.4h-3.4zM647.3 377.1h3.4v3.4h-3.4zM647.8 376.7h3.4v3.4h-3.4zM648.3 376.4h3.4v3.4h-3.4zM648.8 376.2h3.5v3.5h-3.5zM649.3 376.0h3.5v3.5h-3.5zM649.8 375.9h3.6v3.6h-3.6zM650.2 375.8h3.6v3.6h-3.6zM650.8 375.9h3.6v3.6h-3.6zM651.3 376.0h3.5v3.5h-3.5zM651.8 376.2h3.5v3.5h-3.5zM652.3 376.4h3.4v3.4h-3.4zM652.9 376.8h3.4v3.4h-3.4zM653.4 377.1h3.4v3.4h-3.4zM653.9 377.5h3.4v3.4h-3.4zM654.4 377.9h3.3v3.3h-3.3zM654.9 378.4h3.3v3.3h-3.3zM655.4 378.9h3.3v3.3h-3.3zM655.9 379.3h3.3v3.3h-3.3zM656.4 379.8h3.3v3.3h-3.3zM656.9 380.2h3.3v3.3h-3.3zM657.4 380.7h3.3v3.3h-3.3zM657.9 381.1h3.3v3.3h-3.3zM658.4 381.5h3.4v3.4h-3.4zM658.9 381.9h3.4v3.4h-3.4zM659.4 382.3h3.4v3.4h-3.4zM659.9 382.6h3.4v3.4h-3.4zM660.4 383.0h3.4v3.4h-3.4zM660.9 383.3h3.4v3.4h-3.4zM661.4 383.6h3.4v3.4h-3.4zM661.9 383.9h3.4v3.4h-3.4zM662.4 384.1h3.4v3.4h-3.4zM662.9 384.4h3.5v3.5h-3.5zM663.4 384.6h3.5v3.5h-3.5zM663.9 384.8h3.5v3.5h-3.5zM664.4 385.1h3.5v3.5h-3.5zM664.9 385.3h3.5v3.5h-3.5zM665.4 385.4h3.5v3.5h-3.5zM665.9 385.6h3.5v3.5h-3.5zM666.4 385.8h3.5v3.5h-3.5zM666.9 385.9h3.5v3.5h-3.5zM667.4 386.1h3.5v3.5h-3.5zM667.9 386.2h3.5v3.5h-3.5zM668.4 386.3h3.5v3.5h-3.5zM668.9 386.5h3.5v3.5h-3.5zM669.4 386.6h3.5v3.5h-3.5zM669.9 386.7h3.5v3.5h-3.5zM670.4 386.8h3.5v3.5h-3.5zM670.9 386.9h3.5v3.5h-3.5zM671.4 387.0h3.5v3.5h-3.5zM671.9 387.1h3.5v3.5h-3.5zM672.4 387.1h3.6v3.6h-3.6zM672.9 387.2h3.6v3.6h-3.6zM673.4 387.3h3.6v3.6h-3.6zM673.9 387.4h3.6v3.6h-3.6zM674.4 387.4h3.6v3.6h-3.6z" fill="#4a8cc8"/>
<path d="M476.9 372.0h3.4v3.4h-3.4zM477.4 371.7h3.4v3.4h-3.4zM477.9 371.3h3.3v3.3h-3.3zM478.4 370.8h3.3v3.3h-3.3zM479.0 370.3h3.3v3.3h-3.3zM479.5 369.7h3.2v3.2h-3.2zM480.0 369.0h3.1v3.1h-3.1zM480.6 368.2h3.0v3.0h-3.0zM481.1 367.2h2.9v2.9h-2.9zM481.7 366.1h2.8v2.8h-2.8zM482.3 364.8h2.7v2.7h-2.7zM482.8 363.2h2.5v2.5h-2.5zM483.4 361.3h2.3v2.3h-2.3zM484.0 359.0h2.3v2.3h-2.3zM484.5 356.5h2.3v2.3h-2.3zM485.0 353.9h2.3v2.3h-2.3zM485.5 351.4h2.3v2.3h-2.3zM485.8 349.2h2.6v2.6h-2.6zM486.0 347.8h3.2v3.2h-3.2zM486.5 347.7h3.3v3.3h-3.3zM487.3 349.1h2.7v2.7h-2.7zM488.0 351.3h2.3v2.3h-2.3zM488.5 353.7h2.3v2.3h-2.3zM489.0 356.2h2.3v2.3h-2.3zM489.5 358.6h2.3v2.3h-2.3zM489.9 360.7h2.4v2.4h-2.4zM490.3 362.5h2.6v2.6h-2.6zM490.8 363.9h2.8v2.8h-2.8zM491.2 365.2h2.9v2.9h-2.9zM491.6 366.2h3.0v3.0h-3.0zM492.1 367.0h3.1v3.1h-3.1zM492.6 367.7h3.2v3.2h-3.2zM493.0 368.3h3.3v3.3h-3.3zM493.5 368.8h3.3v3.3h-3.3zM494.0 369.2h3.4v3.4h-3.4zM494.5 369.5h3.4v3.4h-3.4zM495.0 369.8h3.4v3.4h-3.4zM495.4 370.1h3.5v3.5h-3.5zM495.9 370.2h3.5v3.5h-3.5zM496.4 370.4h3.5v3.5h-3.5zM496.9 370.5h3.5v3.5h-3.5zM497.4 370.6h3.5v3.5h-3.5zM497.9 370.7h3.6v3.6h-3.6zM498.4 370.8h3.6v3.6h-3.6zM498.9 370.8h3.6v3.6h-3.6zM499.4 370.9h3.6v3.6h-3.6zM499.9 370.9h3.6v3.6h-3.6zM500.4 370.9h3.6v3.6h-3.6zM500.9 370.9h3.6v3.6h-3.6zM501.4 370.9h3.6v3.6h-3.6zM501.9 370.9h3.6v3.6h-3.6zM502.4 370.9h3.6v3.6h-3.6zM502.9 370.9h3.6v3.6h-3.6zM503.4 370.8h3.6v3.6h-3.6zM503.9 370.8h3.6v3.6h-3.6zM504.4 370.7h3.6v3.6h-3.6zM504.9 370.7h3.6v3.6h-3.6zM505.4 370.6h3.6v3.6h-3.6zM506.0 370.6h3.6v3.6h-3.6zM506.5 370.5h3.6v3.6h-3.6zM507.0 370.4h3.6v3.6h-3.6zM507.5 370.3h3.6v3.6h-3.6zM508.0 370.3h3.6v3.6h-3.6zM508.5 370.2h3.5v3.5h-3.5zM509.0 370.1h3.5v3.5h-3.5zM509.5 370.0h3.5v3.5h-3.5zM510.0 369.9h3.5v3.5h-3.5zM510.5 369.8h3.5v3.5h-3.5zM511.0 369.7h3.5v3.5h-3.5zM511.5 369.6h3.5v3.5h-3.5zM512.0 369.5h3.5v3.5h-3.5zM512.5 369.4h3.5v3.5h-3.5zM513.0 369.2h3.5v3.5h-3.5zM513.5 369.1h3.5v3.5h-3.5zM514.0 369.0h3.5v3.5h-3.5zM514.5 368.9h3.5v3.5h-3.5zM515.0 368.7h3.5v3.5h-3.5zM515.5 368.6h3.5v3.5h-3.5zM516.0 368.5h3.5v3.5h-3.5zM516.5 368.3h3.5v3.5h-3.5zM517.0 368.2h3.5v3.5h-3.5zM517.5 368.0h3.5v3.5h-3.5zM518.0 367.9h3.5v3.5h-3.5zM518.6 367.7h3.5v3.5h-3.5zM519.1 367.6h3.5v3.5h-3.5zM519.6 367.4h3.5v3.5h-3.5zM520.1 367.2h3.5v3.5h-3.5zM520.6 367.1h3.5v3.5h-3.5zM521.1 366.9h3.5v3.5h-3.5zM521.6 366.7h3.5v3.5h-3.5zM522.1 366.5h3.5v3.5h-3.5zM522.6 366.4h3.5v3.5h-3.5zM523.1 366.2h3.5v3.5h-3.5zM523.6 366.0h3.5v3.5h-3.5zM524.1 365.8h3.5v3.5h-3.5zM524.6 365.6h3.5v3.5h-3.5zM525.1 365.4h3.5v3.5h-3.5zM525.6 365.2h3.5v3.5h-3.5zM526.1 364.9h3.5v3.5h-3.5zM526.6 364.7h3.5v3.5h-3.5zM527.1 364.5h3.5v3.5h-3.5zM527.6 364.3h3.5v3.5h-3.5zM528.1 364.0h3.5v3.5h-3.5zM528.6 363.8h3.5v3.5h-3.5zM529.1 363.5h3.5v3.5h-3.5zM529.6 363.3h3.4v3.4h-3.4zM530.1 363.0h3.4v3.4h-3.4zM530.7 362.8h3.4v3.4h-3.4zM531.2 362.5h3.4v3.4h-3.4zM531.7 362.3h3.4v3.4h-3.4zM532.2 362.0h3.4v3.4h-3.4zM532.7 361.7h3.4v3.4h-3.4zM533.2 361.4h3.4v3.4h-3.4zM533.7 361.1h3.4v3.4h-3.4zM534.2 360.8h3.4v3.4h-3.4zM534.7 360.5h3.4v3.4h-3.4zM535.2 360.2h3.4v3.4h-3.4zM535.7 359.9h3.4v3.4h-3.4zM536.2 359.6h3.4v3.4h-3.4zM536.7 359.3h3.4v3.4h-3.4zM537.2 358.9h3.4v3.4h-3.4zM537.7 358.6h3.4v3.4h-3.4zM538.2 358.3h3.4v3.4h-3.4zM538.7 357.9h3.4v3.4h-3.4zM539.2 357.6h3.4v3.4h-3.4zM539.7 357.2h3.4v3.4h-3.4zM540.2 356.8h3.4v3.4h-3.4zM540.7 356.5h3.4v3.4h-3.4zM541.2 356.1h3.4v3.4h-3.4zM541.7 355.7h3.4v3.4h-3.4zM542.3 355.3h3.4v3.4h-3.4zM542.8 354.9h3.4v3.4h-3.4zM543.3 354.5h3.4v3.4h-3.4zM543.8 354.1h3.4v3.4h-3.4zM544.3 353.7h3.4v3.4h-3.4zM544.8 353.3h3.3v3.3h-3.3zM545.3 352.9h3.3v3.3h-3.3zM545.8 352.4h3.3v3.3h-3.3zM546.3 352.0h3.3v3.3h-3.3zM546.8 351.6h3.3v3.3h-3.3zM547.3 351.1h3.3v3.3h-3.3zM547.8 350.7h3.3v3.3h-3.3zM548.3 350.2h3.3v3.3h-3.3zM548.8 349.7h3.3v3.3h-3.3zM549.3 349.3h3.3v3.3h-3.3zM549.8 348.8h3.3v3.3h-3.3zM550.3 348.3h3.3v3.3h-3.3zM550.8 347.8h3.3v3.3h-3.3zM551.3 347.3h3.3v3.3h-3.3zM551.8 346.8h3.3v3.3h-3.3zM552.3 346.3h3.3v3.3h-3.3zM552.8 345.8h3.3v3.3h-3.3zM553.4 345.3h3.3v3.3h-3.3zM553.9 344.8h3.3v3.3h-3.3zM554.4 344.3h3.3v3.3h-3.3zM554.9 343.7h3.3v3.3h-3.3zM555.4 343.2h3.3v3.3h-3.3zM555.9 342.7h3.3v3.3h-3.3zM556.4 342.1h3.3v3.3h-3.3zM556.9 341.5h3.3v3.3h-3.3zM557.4 341.0h3.3v3.3h-3.3zM557.9 340.4h3.2v3.2h-3.2zM558.4 339.8h3.2v3.2h-3.2zM558.9 339.2h3.2v3.2h-3.2zM559.4 338.5h3.2v3.2h-3.2zM559.9 337.9h3.2v3.2h-3.2zM560.4 337.2h3.2v3.2h-3.2zM560.9 336.6h3.2v3.2h-3.2zM561.5 335.9h3.2v3.2h-3.2zM562.0 335.1h3.2v3.2h-3.2zM562.5 334.4h3.1v3.1h-3.1zM563.0 333.6h3.1v3.1h-3.1zM563.5 332.8h3.1v3.1h-3.1zM564.0 332.0h3.1v3.1h-3.1zM564.5 331.1h3.1v3.1h-3.1zM565.0 330.2h3.0v3.0h-3.0zM565.6 329.3h3.0v3.0h-3.0zM566.1 328.3h3.0v3.0h-3.0zM566.6 327.3h3.0v3.0h-3.0zM567.1 326.2h2.9v2.9h-2.9zM567.6 325.1h2.9v2.9h-2.9zM568.1 324.0h2.9v2.9h-2.9zM568.6 322.8h2.9v2.9h-2.9zM569.1 321.6h2.9v2.9h-2.9zM569.7 320.4h2.9v2.9h-2.9zM570.2 319.2h2.9v2.9h-2.9zM570.7 318.0h2.9v2.9h-2.9zM571.1 316.8h2.9v2.9h-2.9zM571.6 315.6h2.9v2.9h-2.9zM572.1 314.5h3.0v3.0h-3.0zM572.6 313.6h3.1v3.1h-3.1zM573.0 312.7h3.2v3.2h-3.2zM573.5 312.0h3.3v3.3h-3.3zM573.9 311.5h3.4v3.4h-3.4zM574.4 311.2h3.5v3.5h-3.5zM574.8 311.1h3.6v3.6h-3.6zM575.4 311.4h3.4v3.4h-3.4zM576.0 311.9h3.3v3.3h-3.3zM576.6 312.6h3.1v3.1h-3.1zM577.1 313.5h3.0v3.0h-3.0zM577.7 314.6h2.9v2.9h-2.9zM578.2 315.9h2.8v2.8h-2.8zM578.8 317.3h2.8v2.8h-2.8zM579.3 318.8h2.7v2.7h-2.7zM579.8 320.3h2.7v2.7h-2.7zM580.3 321.9h2.6v2.6h-2.6zM580.8 323.5h2.6v2.6h-2.6zM581.3 325.1h2.6v2.6h-2.6zM581.8 326.7h2.7v2.7h-2.7zM582.3 328.3h2.7v2.7h-2.7zM582.8 329.8h2.7v2.7h-2.7zM583.3 331.3h2.7v2.7h-2.7zM583.8 332.7h2.8v2.8h-2.8zM584.3 334.0h2.8v2.8h-2.8zM584.8 335.3h2.8v2.8h-2.8zM585.2 336.6h2.9v2.9h-2.9zM585.7 337.8h2.9v2.9h-2.9zM586.2 338.9h2.9v2.9h-2.9zM586.7 340.0h3.0v3.0h-3.0zM587.2 341.0h3.0v3.0h-3.0zM587.7 342.0h3.0v3.0h-3.0zM588.2 342.9h3.1v3.1h-3.1zM588.7 343.8h3.1v3.1h-3.1zM589.1 344.6h3.1v3.1h-3.1zM589.6 345.4h3.1v3.1h-3.1zM590.1 346.1h3.2v3.2h-3.2zM590.6 346.8h3.2v3.2h-3.2zM591.1 347.5h3.2v3.2h-3.2zM591.6 348.1h3.2v3.2h-3.2zM592.1 348.7h3.2v3.2h-3.2zM592.6 349.3h3.3v3.3h-3.3zM593.1 349.8h3.3v3.3h-3.3zM593.6 350.3h3.3v3.3h-3.3zM594.1 350.8h3.3v3.3h-3.3zM594.6 351.3h3.3v3.3h-3.3zM595.1 351.7h3.4v3.4h-3.4zM595.6 352.1h3.4v3.4h-3.4zM596.0 352.4h3.4v3.4h-3.4zM596.5 352.8h3.4v3.4h-3.4zM597.0 353.1h3.4v3.4h-3.4zM597.5 353.4h3.4v3.4h-3.4zM598.0 353.6h3.5v3.5h-3.5zM598.5 353.8h3.5v3.5h-3.5zM599.0 354.0h3.5v3.5h-3.5zM599.5 354.2h3.5v3.5h-3.5zM600.0 354.3h3.5v3.5h-3.5zM600.5 354.5h3.5v3.5h-3.5zM601.0 354.5h3.6v3.6h-3.6zM601.5 354.6h3.6v3.6h-3.6zM602.0 354.6h3.6v3.6h-3.6zM602.5 354.6h3.6v3.6h-3.6zM603.0 354.6h3.6v3.6h-3.6zM603.5 354.5h3.5v3.5h-3.5zM604.0 354.4h3.5v3.5h-3.5zM604.5 354.2h3.5v3.5h-3.5zM605.1 354.0h3.5v3.5h-3.5zM605.6 353.8h3.4v3.4h-3.4zM606.1 353.5h3.4v3.4h-3.4zM606.6 353.2h3.4v3.4h-3.4zM607.1 352.8h3.4v3.4h-3.4zM607.6 352.4h3.3v3.3h-3.3zM608.2 351.9h3.3v3.3h-3.3zM608.7 351.4h3.3v3.3h-3.3zM609.2 350.9h3.3v3.3h-3.3zM609.7 350.3h3.3v3.3h-3.3zM610.2 349.7h3.3v3.3h-3.3zM610.7 349.2h3.3v3.3h-3.3zM611.2 348.6h3.3v3.3h-3.3zM611.7 348.0h3.3v3.3h-3.3zM612.2 347.5h3.3v3.3h-3.3zM612.6 347.1h3.4v3.4h-3.4zM613.1 346.8h3.5v3.5h-3.5zM613.6 346.6h3.5v3.5h-3.5zM614.0 346.5h3.6v3.6h-3.6zM614.6 346.6h3.5v3.5h-3.5zM615.1 346.9h3.4v3.4h-3.4zM615.7 347.2h3.4v3.4h-3.4zM616.2 347.7h3.3v3.3h-3.3zM616.7 348.3h3.2v3.2h-3.2zM617.3 349.0h3.2v3.2h-3.2zM617.8 349.7h3.2v3.2h-3.2zM618.3 350.5h3.1v3.1h-3.1zM618.8 351.2h3.1v3.1h-3.1zM619.3 352.0h3.1v3.1h-3.1zM619.8 352.8h3.2v3.2h-3.2zM620.3 353.5h3.2v3.2h-3.2zM620.8 354.1h3.2v3.2h-3.2zM621.3 354.8h3.2v3.2h-3.2zM621.8 355.4h3.3v3.3h-3.3zM622.2 355.9h3.3v3.3h-3.3zM622.7 356.4h3.3v3.3h-3.3zM623.2 356.9h3.3v3.3h-3.3zM623.7 357.3h3.4v3.4h-3.4zM624.2 357.6h3.4v3.4h-3.4zM624.7 357.9h3.4v3.4h-3.4zM625.2 358.2h3.4v3.4h-3.4zM625.7 358.4h3.5v3.5h-3.5zM626.2 358.6h3.5v3.5h-3.5zM626.7 358.8h3.5v3.5h-3.5zM627.1 358.9h3.5v3.5h-3.5zM627.6 358.9h3.6v3.6h-3.6zM628.1 358.9h3.6v3.6h-3.6zM628.6 358.9h3.6v3.6h-3.6zM629.1 358.9h3.6v3.6h-3.6zM629.7 358.9h3.5v3.5h-3.5zM630.2 358.8h3.5v3.5h-3.5zM630.7 358.6h3.5v3.5h-3.5zM631.2 358.4h3.5v3.5h-3.5zM631.7 358.2h3.5v3.5h-3.5zM632.2 358.0h3.4v3.4h-3.4zM632.7 357.7h3.4v3.4h-3.4zM633.3 357.4h3.4v3.4h-3.4zM633.8 357.0h3.4v3.4h-3.4zM634.3 356.6h3.3v3.3h-3.3zM634.8 356.1h3.3v3.3h-3.3zM635.3 355.6h3.3v3.3h-3.3zM635.8 355.0h3.2v3.2h-3.2zM636.4 354.4h3.2v3.2h-3.2zM636.9 353.7h3.2v3.2h-3.2zM637.4 353.0h3.1v3.1h-3.1zM637.9 352.2h3.1v3.1h-3.1zM638.4 351.4h3.1v3.1h-3.1zM639.0 350.4h3.0v3.0h-3.0zM639.5 349.4h3.0v3.0h-3.0zM640.0 348.4h2.9v2.9h-2.9zM640.6 347.2h2.9v2.9h-2.9zM641.1 346.0h2.8v2.8h-2.8zM641.6 344.7h2.8v2.8h-2.8zM642.1 343.2h2.7v2.7h-2.7zM642.7 341.7h2.7v2.7h-2.7zM643.2 340.1h2.6v2.6h-2.6zM643.7 338.4h2.5v2.5h-2.5zM644.3 336.6h2.5v2.5h-2.5zM644.8 334.7h2.4v2.4h-2.4zM645.3 332.8h2.4v2.4h-2.4zM645.9 330.7h2.3v2.3h-2.3zM646.4 328.6h2.3v2.3h-2.3zM646.9 326.3h2.3v2.3h-2.3zM647.4 324.1h2.3v2.3h-2.3zM647.9 321.8h2.3v2.3h-2.3zM648.4 319.6h2.3v2.3h-2.3zM648.9 317.4h2.3v2.3h-2.3zM649.3 315.2h2.4v2.4h-2.4zM649.8 313.2h2.5v2.5h-2.5zM650.3 311.3h2.6v2.6h-2.6zM650.7 309.7h2.7v2.7h-2.7zM651.1 308.3h2.9v2.9h-2.9zM651.5 307.2h3.1v3.1h-3.1zM651.9 306.4h3.3v3.3h-3.3zM652.3 305.9h3.5v3.5h-3.5zM652.8 306.0h3.5v3.5h-3.5zM653.4 306.5h3.2v3.2h-3.2zM654.0 307.4h3.0v3.0h-3.0zM654.6 308.6h2.8v2.8h-2.8zM655.2 310.1h2.7v2.7h-2.7zM655.8 311.8h2.5v2.5h-2.5zM656.4 313.8h2.4v2.4h-2.4zM656.9 316.0h2.3v2.3h-2.3zM657.4 318.2h2.3v2.3h-2.3zM657.9 320.5h2.3v2.3h-2.3zM658.4 322.9h2.3v2.3h-2.3zM658.9 325.3h2.3v2.3h-2.3zM659.4 327.7h2.3v2.3h-2.3zM659.9 330.1h2.3v2.3h-2.3zM660.4 332.4h2.3v2.3h-2.3zM661.0 334.7h2.3v2.3h-2.3zM661.4 336.9h2.3v2.3h-2.3zM661.9 338.9h2.4v2.4h-2.4zM662.4 340.9h2.4v2.4h-2.4zM662.9 342.8h2.5v2.5h-2.5zM663.3 344.6h2.5v2.5h-2.5zM663.8 346.3h2.6v2.6h-2.6zM664.3 347.9h2.7v2.7h-2.7zM664.8 349.4h2.7v2.7h-2.7zM665.2 350.8h2.8v2.8h-2.8zM665.7 352.2h2.8v2.8h-2.8zM666.2 353.4h2.9v2.9h-2.9zM666.7 354.6h2.9v2.9h-2.9zM667.2 355.8h2.9v2.9h-2.9zM667.7 356.8h3.0v3.0h-3.0zM668.1 357.8h3.0v3.0h-3.0zM668.6 358.8h3.0v3.0h-3.0zM669.1 359.7h3.1v3.1h-3.1zM669.6 360.5h3.1v3.1h-3.1zM670.1 361.3h3.1v3.1h-3.1zM670.6 362.1h3.2v3.2h-3.2zM671.1 362.8h3.2v3.2h-3.2zM671.6 363.5h3.2v3.2h-3.2zM672.1 364.1h3.2v3.2h-3.2zM672.5 364.7h3.2v3.2h-3.2zM673.0 365.3h3.3v3.3h-3.3zM673.5 365.8h3.3v3.3h-3.3zM674.0 366.3h3.3v3.3h-3.3zM674.5 366.8h3.3v3.3h-3.3z" fill="#3cbd8c"/>
<path d="M477.2 356.5h2.8v2.8h-2.8zM477.7 355.5h2.7v2.7h-2.7zM478.3 354.3h2.5v2.5h-2.5zM478.9 352.8h2.3v2.3h-2.3zM479.5 350.9h2.2v2.2h-2.2zM480.0 348.4h2.2v2.2h-2.2zM480.5 345.5h2.2v2.2h-2.2zM481.0 341.9h2.2v2.2h-2.2zM481.5 337.8h2.2v2.2h-2.2zM482.0 333.0h2.2v2.2h-2.2zM482.5 327.6h2.2v2.2h-2.2zM483.0 321.8h2.2v2.2h-2.2zM483.5 315.7h2.2v2.2h-2.2zM484.0 309.5h2.2v2.2h-2.2zM484.5 303.7h2.2v2.2h-2.2zM485.0 298.8h2.2v2.2h-2.2zM485.5 295.2h2.2v2.2h-2.2zM485.6 293.1h3.0v3.0h-3.0zM486.4 293.8h2.5v2.5h-2.5zM487.0 296.4h2.2v2.2h-2.2zM487.5 300.5h2.2v2.2h-2.2zM488.0 305.8h2.2v2.2h-2.2zM488.5 311.7h2.2v2.2h-2.2zM489.0 317.7h2.2v2.2h-2.2zM489.5 323.6h2.2v2.2h-2.2zM490.0 329.1h2.2v2.2h-2.2zM490.5 334.0h2.2v2.2h-2.2zM491.0 338.4h2.2v2.2h-2.2zM491.5 342.1h2.2v2.2h-2.2zM492.1 345.2h2.2v2.2h-2.2zM492.6 347.8h2.2v2.2h-2.2zM493.0 349.8h2.3v2.3h-2.3zM493.4 351.4h2.5v2.5h-2.5zM493.8 352.6h2.7v2.7h-2.7zM494.2 353.6h2.9v2.9h-2.9zM494.7 354.3h3.0v3.0h-3.0zM495.1 354.9h3.1v3.1h-3.1zM495.6 355.4h3.1v3.1h-3.1zM496.1 355.7h3.2v3.2h-3.2zM496.6 356.0h3.2v3.2h-3.2zM497.1 356.3h3.3v3.3h-3.3zM497.5 356.5h3.3v3.3h-3.3zM498.0 356.7h3.3v3.3h-3.3zM498.5 356.8h3.3v3.3h-3.3zM499.0 356.9h3.3v3.3h-3.3zM499.5 357.0h3.3v3.3h-3.3zM500.0 357.1h3.4v3.4h-3.4zM500.5 357.2h3.4v3.4h-3.4zM501.0 357.2h3.4v3.4h-3.4zM501.5 357.3h3.4v3.4h-3.4zM502.0 357.3h3.4v3.4h-3.4zM502.5 357.3h3.4v3.4h-3.4zM503.0 357.3h3.4v3.4h-3.4zM503.5 357.3h3.4v3.4h-3.4zM504.0 357.3h3.4v3.4h-3.4zM504.5 357.3h3.4v3.4h-3.4zM505.0 357.3h3.4v3.4h-3.4zM505.5 357.3h3.4v3.4h-3.4zM506.0 357.3h3.4v3.4h-3.4zM506.5 357.2h3.4v3.4h-3.4zM507.1 357.2h3.4v3.4h-3.4zM507.6 357.2h3.4v3.4h-3.4zM508.1 357.1h3.4v3.4h-3.4zM508.6 357.1h3.4v3.4h-3.4zM509.1 357.0h3.4v3.4h-3.4zM509.6 357.0h3.4v3.4h-3.4zM510.1 356.9h3.4v3.4h-3.4zM510.6 356.8h3.4v3.4h-3.4zM511.1 356.8h3.4v3.4h-3.4zM511.6 356.7h3.4v3.4h-3.4zM512.1 356.6h3.4v3.4h-3.4zM512.6 356.6h3.4v3.4h-3.4zM513.1 356.5h3.4v3.4h-3.4zM513.6 356.4h3.4v3.4h-3.4zM514.1 356.4h3.4v3.4h-3.4zM514.6 356.3h3.4v3.4h-3.4zM515.1 356.2h3.4v3.4h-3.4zM515.6 356.1h3.4v3.4h-3.4zM516.1 356.1h3.4v3.4h-3.4zM516.6 356.0h3.4v3.4h-3.4zM517.1 355.9h3.4v3.4h-3.4zM517.6 355.8h3.4v3.4h-3.4zM518.1 355.7h3.4v3.4h-3.4zM518.6 355.7h3.4v3.4h-3.4zM519.1 355.6h3.4v3.4h-3.4zM519.6 355.5h3.4v3.4h-3.4zM520.1 355.4h3.4v3.4h-3.4zM520.6 355.4h3.4v3.4h-3.4zM521.1 355.3h3.4v3.4h-3.4zM521.6 355.2h3.4v3.4h-3.4zM522.1 355.2h3.4v3.4h-3.4zM522.6 355.1h3.4v3.4h-3.4zM523.1 355.0h3.4v3.4h-3.4zM523.7 354.9h3.4v3.4h-3.4zM524.2 354.9h3.4v3.4h-3.4zM524.7 354.8h3.4v3.4h-3.4zM525.2 354.8h3.4v3.4h-3.4zM525.7 354.7h3.4v3.4h-3.4zM526.2 354.6h3.4v3.4h-3.4zM526.7 354.6h3.4v3.4h-3.4zM527.2 354.5h3.4v3.4h-3.4zM527.7 354.5h3.4v3.4h-3.4zM528.2 354.4h3.4v3.4h-3.4zM528.7 354.4h3.4v3.4h-3.4zM529.2 354.3h3.4v3.4h-3.4zM529.7 354.3h3.4v3.4h-3.4zM530.2 354.2h3.4v3.4h-3.4zM530.7 354.2h3.4v3.4h-3.4zM531.2 354.2h3.4v3.4h-3.4zM531.7 354.1h3.4v3.4h-3.4zM532.2 354.1h3.4v3.4h-3.4zM532.7 354.1h3.4v3.4h-3.4zM533.2 354.0h3.4v3.4h-3.4zM533.7 354.0h3.4v3.4h-3.4zM534.2 354.0h3.4v3.4h-3.4zM534.7 354.0h3.4v3.4h-3.4zM535.2 354.0h3.4v3.4h-3.4zM535.7 353.9h3.4v3.4h-3.4zM536.2 353.9h3.4v3.4h-3.4zM536.7 353.9h3.4v3.4h-3.4zM537.2 353.9h3.4v3.4h-3.4zM537.7 353.9h3.4v3.4h-3.4zM538.2 353.9h3.4v3.4h-3.4zM538.7 353.9h3.4v3.4h-3.4zM539.2 353.9h3.4v3.4h-3.4zM539.7 353.9h3.4v3.4h-3.4zM540.2 353.9h3.4v3.4h-3.4zM540.7 353.9h3.4v3.4h-3.4zM541.2 353.9h3.4v3.4h-3.4zM541.7 353.9h3.4v3.4h-3.4zM542.2 353.9h3.4v3.4h-3.4zM542.7 353.9h3.4v3.4h-3.4zM543.2 353.9h3.4v3.4h-3.4zM543.7 353.9h3.4v3.4h-3.4zM544.2 353.9h3.4v3.4h-3.4zM544.8 353.9h3.4v3.4h-3.4zM545.3 353.8h3.4v3.4h-3.4zM545.8 353.8h3.4v3.4h-3.4zM546.3 353.8h3.4v3.4h-3.4zM546.8 353.8h3.4v3.4h-3.4zM547.3 353.8h3.4v3.4h-3.4zM547.8 353.8h3.4v3.4h-3.4zM548.3 353.8h3.4v3.4h-3.4zM548.8 353.8h3.4v3.4h-3.4zM549.3 353.8h3.4v3.4h-3.4zM549.8 353.8h3.4v3.4h-3.4zM550.3 353.7h3.4v3.4h-3.4zM550.8 353.7h3.4v3.4h-3.4zM551.3 353.7h3.4v3.4h-3.4zM551.8 353.7h3.4v3.4h-3.4zM552.3 353.6h3.4v3.4h-3.4zM552.8 353.6h3.4v3.4h-3.4zM553.3 353.5h3.4v3.4h-3.4zM553.8 353.5h3.4v3.4h-3.4zM554.3 353.4h3.4v3.4h-3.4zM554.8 353.4h3.4v3.4h-3.4zM555.3 353.3h3.4v3.4h-3.4zM555.8 353.2h3.3v3.3h-3.3zM556.3 353.1h3.3v3.3h-3.3zM556.8 353.0h3.3v3.3h-3.3zM557.4 352.9h3.3v3.3h-3.3zM557.9 352.8h3.3v3.3h-3.3zM558.4 352.7h3.3v3.3h-3.3zM558.9 352.5h3.3v3.3h-3.3zM559.4 352.4h3.3v3.3h-3.3zM559.9 352.2h3.3v3.3h-3.3zM560.4 352.1h3.3v3.3h-3.3zM560.9 351.9h3.3v3.3h-3.3zM561.4 351.7h3.3v3.3h-3.3zM561.9 351.5h3.3v3.3h-3.3zM562.4 351.2h3.3v3.3h-3.3zM562.9 351.0h3.2v3.2h-3.2zM563.4 350.7h3.2v3.2h-3.2zM563.9 350.5h3.2v3.2h-3.2zM564.5 350.2h3.2v3.2h-3.2zM565.0 349.9h3.2v3.2h-3.2zM565.5 349.5h3.2v3.2h-3.2zM566.0 349.2h3.2v3.2h-3.2zM566.5 348.9h3.2v3.2h-3.2zM567.0 348.5h3.2v3.2h-3.2zM567.5 348.2h3.2v3.2h-3.2zM568.0 347.8h3.2v3.2h-3.2zM568.5 347.5h3.2v3.2h-3.2zM569.0 347.2h3.2v3.2h-3.2zM569.5 346.9h3.2v3.2h-3.2zM570.0 346.6h3.3v3.3h-3.3zM570.5 346.4h3.3v3.3h-3.3zM570.9 346.2h3.3v3.3h-3.3zM571.4 346.1h3.3v3.3h-3.3zM571.9 346.0h3.4v3.4h-3.4zM572.4 345.9h3.4v3.4h-3.4zM572.9 345.9h3.4v3.4h-3.4zM573.4 346.0h3.3v3.3h-3.3zM574.0 346.2h3.3v3.3h-3.3zM574.5 346.3h3.3v3.3h-3.3zM575.0 346.6h3.3v3.3h-3.3zM575.5 346.8h3.3v3.3h-3.3zM576.0 347.1h3.2v3.2h-3.2zM576.5 347.4h3.2v3.2h-3.2zM577.0 347.6h3.2v3.2h-3.2zM577.5 347.9h3.2v3.2h-3.2zM578.0 348.2h3.2v3.2h-3.2zM578.5 348.5h3.2v3.2h-3.2zM579.0 348.8h3.2v3.2h-3.2zM579.5 349.1h3.2v3.2h-3.2zM580.0 349.4h3.2v3.2h-3.2zM580.5 349.6h3.3v3.3h-3.3zM581.0 349.8h3.3v3.3h-3.3zM581.5 350.0h3.3v3.3h-3.3zM582.0 350.2h3.3v3.3h-3.3zM582.5 350.4h3.3v3.3h-3.3zM583.0 350.6h3.3v3.3h-3.3zM583.5 350.7h3.3v3.3h-3.3zM584.0 350.8h3.3v3.3h-3.3zM584.5 350.9h3.3v3.3h-3.3zM585.0 351.0h3.4v3.4h-3.4zM585.5 351.1h3.4v3.4h-3.4zM586.0 351.1h3.4v3.4h-3.4zM586.5 351.1h3.4v3.4h-3.4zM587.0 351.2h3.4v3.4h-3.4zM587.5 351.2h3.4v3.4h-3.4zM588.0 351.2h3.4v3.4h-3.4zM588.5 351.1h3.4v3.4h-3.4zM589.0 351.1h3.4v3.4h-3.4zM589.5 351.0h3.4v3.4h-3.4zM590.0 351.0h3.4v3.4h-3.4zM590.5 350.9h3.3v3.3h-3.3zM591.0 350.8h3.3v3.3h-3.3zM591.6 350.7h3.3v3.3h-3.3zM592.1 350.5h3.3v3.3h-3.3zM592.6 350.4h3.3v3.3h-3.3zM593.1 350.2h3.3v3.3h-3.3zM593.6 350.0h3.3v3.3h-3.3zM594.1 349.8h3.3v3.3h-3.3zM594.6 349.6h3.3v3.3h-3.3zM595.1 349.4h3.2v3.2h-3.2zM595.6 349.1h3.2v3.2h-3.2zM596.1 348.8h3.2v3.2h-3.2zM596.6 348.5h3.2v3.2h-3.2zM597.1 348.2h3.2v3.2h-3.2zM597.7 347.9h3.2v3.2h-3.2zM598.2 347.5h3.2v3.2h-3.2zM598.7 347.1h3.2v3.2h-3.2zM599.2 346.7h3.1v3.1h-3.1zM599.7 346.3h3.1v3.1h-3.1zM600.2 345.9h3.1v3.1h-3.1zM600.7 345.4h3.1v3.1h-3.1zM601.2 344.9h3.1v3.1h-3.1zM601.7 344.4h3.1v3.1h-3.1zM602.2 343.8h3.1v3.1h-3.1zM602.8 343.2h3.0v3.0h-3.0zM603.3 342.6h3.0v3.0h-3.0zM603.8 342.0h3.0v3.0h-3.0zM604.3 341.4h3.0v3.0h-3.0zM604.8 340.7h3.0v3.0h-3.0zM605.3 340.1h3.0v3.0h-3.0zM605.8 339.4h3.0v3.0h-3.0zM606.3 338.7h3.0v3.0h-3.0zM606.8 338.0h3.0v3.0h-3.0zM607.3 337.4h3.0v3.0h-3.0zM607.8 336.7h3.0v3.0h-3.0zM608.3 336.1h3.0v3.0h-3.0zM608.8 335.5h3.1v3.1h-3.1zM609.3 334.9h3.1v3.1h-3.1zM609.8 334.4h3.1v3.1h-3.1zM610.2 333.9h3.1v3.1h-3.1zM610.7 333.5h3.2v3.2h-3.2zM611.2 333.1h3.2v3.2h-3.2zM611.7 332.9h3.3v3.3h-3.3zM612.2 332.7h3.3v3.3h-3.3zM612.6 332.6h3.4v3.4h-3.4zM613.1 332.5h3.4v3.4h-3.4zM613.7 332.6h3.3v3.3h-3.3zM614.2 332.8h3.3v3.3h-3.3zM614.7 333.0h3.3v3.3h-3.3zM615.2 333.2h3.2v3.2h-3.2zM615.7 333.6h3.2v3.2h-3.2zM616.3 333.9h3.2v3.2h-3.2zM616.8 334.3h3.2v3.2h-3.2zM617.3 334.7h3.2v3.2h-3.2zM617.8 335.1h3.1v3.1h-3.1zM618.3 335.6h3.1v3.1h-3.1zM618.8 336.0h3.1v3.1h-3.1zM619.3 336.4h3.2v3.2h-3.2zM619.8 336.8h3.2v3.2h-3.2zM620.3 337.2h3.2v3.2h-3.2zM620.8 337.6h3.2v3.2h-3.2zM621.3 337.9h3.2v3.2h-3.2zM621.8 338.2h3.2v3.2h-3.2zM622.3 338.5h3.2v3.2h-3.2zM622.8 338.7h3.3v3.3h-3.3zM623.3 338.9h3.3v3.3h-3.3zM623.7 339.1h3.3v3.3h-3.3zM624.2 339.2h3.3v3.3h-3.3zM624.7 339.3h3.4v3.4h-3.4zM625.2 339.4h3.4v3.4h-3.4zM625.7 339.4h3.4v3.4h-3.4zM626.2 339.4h3.4v3.4h-3.4zM626.7 339.3h3.3v3.3h-3.3zM627.3 339.2h3.3v3.3h-3.3zM627.8 339.1h3.3v3.3h-3.3zM628.3 338.9h3.3v3.3h-3.3zM628.8 338.7h3.2v3.2h-3.2zM629.3 338.4h3.2v3.2h-3.2zM629.8 338.1h3.2v3.2h-3.2zM630.4 337.7h3.1v3.1h-3.1zM630.9 337.2h3.1v3.1h-3.1zM631.4 336.7h3.1v3.1h-3.1zM631.9 336.2h3.1v3.1h-3.1zM632.4 335.6h3.0v3.0h-3.0zM633.0 335.0h3.0v3.0h-3.0zM633.5 334.3h3.0v3.0h-3.0zM634.0 333.5h2.9v2.9h-2.9zM634.5 332.7h2.9v2.9h-2.9zM635.0 331.9h2.9v2.9h-2.9zM635.5 331.0h2.8v2.8h-2.8zM636.1 330.0h2.8v2.8h-2.8zM636.6 329.1h2.8v2.8h-2.8zM637.1 328.0h2.7v2.7h-2.7zM637.6 326.9h2.7v2.7h-2.7zM638.1 325.7h2.7v2.7h-2.7zM638.7 324.5h2.6v2.6h-2.6zM639.2 323.1h2.5v2.5h-2.5zM639.8 321.6h2.5v2.5h-2.5zM640.3 320.0h2.4v2.4h-2.4zM640.8 318.3h2.3v2.3h-2.3zM641.4 316.4h2.2v2.2h-2.2zM641.9 314.3h2.2v2.2h-2.2zM642.4 311.9h2.2v2.2h-2.2zM642.9 309.4h2.2v2.2h-2.2zM643.4 306.7h2.2v2.2h-2.2zM643.9 303.7h2.2v2.2h-2.2zM644.4 300.5h2.2v2.2h-2.2zM644.9 297.1h2.2v2.2h-2.2zM645.4 293.4h2.2v2.2h-2.2zM645.9 289.5h2.2v2.2h-2.2zM646.4 285.3h2.2v2.2h-2.2zM646.9 281.0h2.2v2.2h-2.2zM647.4 276.5h2.2v2.2h-2.2zM647.9 271.9h2.2v2.2h-2.2zM648.4 267.2h2.2v2.2h-2.2zM648.9 262.6h2.2v2.2h-2.2zM649.4 258.1h2.2v2.2h-2.2zM649.9 254.0h2.2v2.2h-2.2zM650.4 250.2h2.2v2.2h-2.2zM650.9 247.0h2.2v2.2h-2.2zM651.4 244.6h2.2v2.2h-2.2zM651.7 242.7h2.7v2.7h-2.7zM651.9 241.6h3.2v3.2h-3.2zM652.5 241.9h3.0v3.0h-3.0zM653.3 243.3h2.5v2.5h-2.5zM654.0 245.4h2.2v2.2h-2.2zM654.5 248.2h2.2v2.2h-2.2zM655.0 251.7h2.2v2.2h-2.2zM655.5 255.6h2.2v2.2h-2.2zM656.0 260.0h2.2v2.2h-2.2zM656.5 264.6h2.2v2.2h-2.2zM657.0 269.4h2.2v2.2h-2.2zM657.5 274.2h2.2v2.2h-2.2zM658.0 278.9h2.2v2.2h-2.2zM658.5 283.5h2.2v2.2h-2.2zM659.0 288.0h2.2v2.2h-2.2zM659.5 292.2h2.2v2.2h-2.2zM660.0 296.2h2.2v2.2h-2.2zM660.5 300.0h2.2v2.2h-2.2zM661.0 303.5h2.2v2.2h-2.2zM661.5 306.9h2.2v2.2h-2.2zM662.0 310.0h2.2v2.2h-2.2zM662.5 312.8h2.2v2.2h-2.2zM663.0 315.5h2.2v2.2h-2.2zM663.5 318.0h2.2v2.2h-2.2zM664.0 320.3h2.2v2.2h-2.2zM664.5 322.5h2.2v2.2h-2.2zM665.0 324.5h2.3v2.3h-2.3zM665.5 326.3h2.3v2.3h-2.3zM665.9 328.0h2.4v2.4h-2.4zM666.4 329.5h2.5v2.5h-2.5zM666.9 331.0h2.5v2.5h-2.5zM667.3 332.3h2.6v2.6h-2.6zM667.8 333.6h2.7v2.7h-2.7zM668.3 334.8h2.7v2.7h-2.7zM668.8 335.9h2.7v2.7h-2.7zM669.3 336.9h2.8v2.8h-2.8zM669.7 337.9h2.8v2.8h-2.8zM670.2 338.8h2.9v2.9h-2.9zM670.7 339.7h2.9v2.9h-2.9zM671.2 340.5h2.9v2.9h-2.9zM671.7 341.2h3.0v3.0h-3.0zM672.2 341.9h3.0v3.0h-3.0zM672.7 342.6h3.0v3.0h-3.0zM673.2 343.2h3.0v3.0h-3.0zM673.7 343.8h3.1v3.1h-3.1zM674.1 344.4h3.1v3.1h-3.1zM674.6 344.9h3.1v3.1h-3.1z" fill="#ee8433"/>
</g>
<polyline points="478.5,238.4 478.5,397.2 676.4,397.2" fill="none" stroke="#111" stroke-width="1.1"/>
<polyline points="478.5,238.4 676.4,238.4 676.4,397.2" fill="none" stroke="#111" stroke-width="0.9"/>
<g font-size="10.5" fill="#111">
<line x1="474.9" y1="397.2" x2="478.5" y2="397.2" stroke="#111" stroke-width="1.1"/>
<text x="470.7" y="401.7" text-anchor="end">0</text>
<line x1="474.9" y1="365.4" x2="478.5" y2="365.4" stroke="#111" stroke-width="1.1"/>
<text x="470.7" y="369.9" text-anchor="end">100</text>
<line x1="474.9" y1="333.7" x2="478.5" y2="333.7" stroke="#111" stroke-width="1.1"/>
<text x="470.7" y="338.2" text-anchor="end">200</text>
<line x1="474.9" y1="301.9" x2="478.5" y2="301.9" stroke="#111" stroke-width="1.1"/>
<text x="470.7" y="306.4" text-anchor="end">300</text>
<line x1="474.9" y1="270.2" x2="478.5" y2="270.2" stroke="#111" stroke-width="1.1"/>
<text x="470.7" y="274.7" text-anchor="end">400</text>
<line x1="474.9" y1="238.4" x2="478.5" y2="238.4" stroke="#111" stroke-width="1.1"/>
<text x="470.7" y="242.9" text-anchor="end">500</text>
<line x1="485.5" y1="397.2" x2="485.5" y2="400.6" stroke="#111" stroke-width="1.1"/>
<text x="485.5" y="414.0" text-anchor="middle">100</text>
<line x1="512.7" y1="397.2" x2="512.7" y2="400.6" stroke="#111" stroke-width="1.1"/>
<text x="512.7" y="414.0" text-anchor="middle">120</text>
<line x1="539.9" y1="397.2" x2="539.9" y2="400.6" stroke="#111" stroke-width="1.1"/>
<text x="539.9" y="414.0" text-anchor="middle">140</text>
<line x1="567.0" y1="397.2" x2="567.0" y2="400.6" stroke="#111" stroke-width="1.1"/>
<text x="567.0" y="414.0" text-anchor="middle">160</text>
<line x1="594.2" y1="397.2" x2="594.2" y2="400.6" stroke="#111" stroke-width="1.1"/>
<text x="594.2" y="414.0" text-anchor="middle">180</text>
<line x1="621.4" y1="397.2" x2="621.4" y2="400.6" stroke="#111" stroke-width="1.1"/>
<text x="621.4" y="414.0" text-anchor="middle">200</text>
<line x1="648.6" y1="397.2" x2="648.6" y2="400.6" stroke="#111" stroke-width="1.1"/>
<text x="648.6" y="414.0" text-anchor="middle">220</text>
<line x1="675.8" y1="397.2" x2="675.8" y2="400.6" stroke="#111" stroke-width="1.1"/>
<text x="675.8" y="414.0" text-anchor="middle">240</text>
</g>
<text x="578.6" y="432.6" text-anchor="middle" font-size="11" fill="#111">Wavenumber (cm<tspan font-size="7.5" dy="-4">−1</tspan><tspan dy="4">)</tspan></text>
<text transform="translate(444.6,318.4) rotate(-90)" text-anchor="middle" font-size="11" fill="#111">Intensity (a.u.)</text>
<line x1="483.3" y1="246.1" x2="500.5" y2="246.1" stroke="#ee8433" stroke-width="2.8"/>
<text x="503.8" y="249.3" font-size="9.4" fill="#111">0° (armchair)</text>
<line x1="483.3" y1="258.2" x2="500.5" y2="258.2" stroke="#3cbd8c" stroke-width="2.8"/>
<text x="503.8" y="261.4" font-size="9.4" fill="#111">45°</text>
<line x1="483.3" y1="270.2" x2="500.5" y2="270.2" stroke="#4a8cc8" stroke-width="2.8"/>
<text x="503.8" y="273.4" font-size="9.4" fill="#111">90° (zigzag)</text>
<text x="494.3" y="300.4" font-size="9.2" fill="#111"><tspan font-style="italic">A</tspan><tspan font-size="6" dy="2">g</tspan></text>
<text x="571.4" y="307.6" font-size="9.2" fill="#111"><tspan font-style="italic">B</tspan><tspan font-size="6" dy="2">3g</tspan></text>
<text x="611.8" y="329.4" font-size="9.2" fill="#111"><tspan font-style="italic">A</tspan><tspan font-size="6" dy="2">g</tspan></text>
<text x="660.3" y="251.6" font-size="9.2" fill="#111"><tspan font-style="italic">A</tspan><tspan font-size="6" dy="2">g</tspan></text>
</g>
</svg>
</body></html>
